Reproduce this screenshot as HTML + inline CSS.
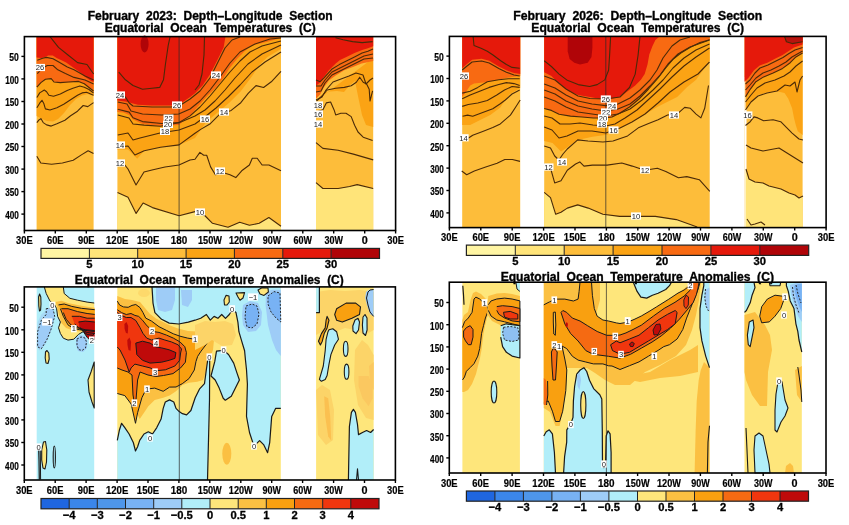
<!DOCTYPE html>
<html><head><meta charset="utf-8"><style>
html,body{margin:0;padding:0;background:#fff;}
svg{display:block;font-family:'Liberation Sans', Arial, sans-serif;filter:blur(0.3px);}
</style></head><body>
<svg width="849" height="525" viewBox="0 0 849 525">
<rect x="0" y="0" width="849" height="525" fill="#fff"/>
<rect x="36.6" y="36.6" width="57.0" height="193.9" fill="#FDBD3A" stroke="none" stroke-width="0"/>
<polygon points="36.6,36.6 36.6,116.0 42.0,119.0 47.0,121.0 53.0,121.5 58.0,119.0 64.0,113.0 70.0,105.0 76.0,99.0 82.0,95.5 88.0,94.0 93.6,96.0 93.6,36.6" fill="#FBA314" stroke="none" stroke-width="0"/>
<polygon points="36.6,36.6 36.6,87.2 40.9,82.6 45.4,79.2 51.2,78.6 53.5,81.4 59.2,82.6 68.3,82.6 77.5,81.4 82.1,82.6 88.9,87.2 93.6,92.0 93.6,36.6" fill="#F86A12" stroke="none" stroke-width="0"/>
<polygon points="36.6,36.6 36.6,57.5 41.4,58.0 45.2,57.0 48.1,55.5 52.8,55.5 56.6,57.9 60.4,59.8 66.1,62.6 71.8,66.4 79.5,72.1 85.2,76.9 90.9,80.7 93.6,82.0 93.6,36.6" fill="#E5190B" stroke="none" stroke-width="0"/>
<rect x="117.4" y="36.6" width="163.6" height="193.9" fill="#FDBD3A" stroke="none" stroke-width="0"/>
<polygon points="117.4,230.5 117.4,192.5 128.0,197.2 136.1,213.4 143.1,203.0 152.4,207.6 179.1,215.8 195.0,211.6 204.7,215.5 212.5,223.3 228.0,227.2 239.7,222.3 249.4,225.3 259.2,223.3 268.9,217.5 281.0,226.2 281.0,230.5" fill="#FFE479" stroke="none" stroke-width="0"/>
<polygon points="117.4,36.6 117.4,149.5 128.0,149.5 134.9,156.5 137.2,158.8 144.2,150.7 160.5,147.2 179.1,144.9 195.0,138.0 206.4,121.8 217.9,112.3 229.3,102.7 240.8,91.3 252.2,76.0 259.8,64.6 267.5,57.0 281.0,49.0 281.0,36.6" fill="#FBA314" stroke="none" stroke-width="0"/>
<polygon points="117.4,36.6 117.4,112.0 123.5,112.5 129.2,115.0 133.0,119.5 142.5,124.0 161.6,126.0 178.7,125.0 190.1,115.9 195.0,110.0 206.4,97.0 216.0,87.5 223.6,78.0 229.3,68.4 237.0,58.9 244.6,51.3 252.2,45.5 267.5,41.7 281.0,37.9 281.0,36.6" fill="#F86A12" stroke="none" stroke-width="0"/>
<polygon points="117.4,36.6 117.4,100.5 125.4,101.5 129.2,102.5 137.8,104.8 152.0,105.4 171.1,105.4 180.6,103.5 190.1,96.9 195.0,93.2 202.6,85.6 210.3,74.1 217.9,58.9 223.6,47.4 225.5,36.6 225.5,36.6" fill="#E5190B" stroke="none" stroke-width="0"/>
<rect x="316.0" y="36.6" width="57.2" height="193.9" fill="#FDBD3A" stroke="none" stroke-width="0"/>
<polygon points="316.0,230.5 316.0,182.7 322.9,188.5 338.1,188.5 349.6,186.5 357.2,184.6 373.2,188.5 373.2,230.5" fill="#FFE479" stroke="none" stroke-width="0"/>
<polygon points="316.0,101.0 323.7,93.0 330.0,91.5 337.0,91.0 344.0,92.0 350.0,85.0 355.0,81.0 358.0,96.0 362.0,115.0 366.0,125.0 373.2,127.0 373.2,58.0" fill="#FBA314" stroke="none" stroke-width="0"/>
<polygon points="316.0,36.6 316.0,98.6 320.3,94.3 323.7,87.4 328.9,80.6 335.7,75.4 344.3,70.3 352.9,66.9 361.5,63.4 373.2,60.9 373.2,36.6" fill="#F86A12" stroke="none" stroke-width="0"/>
<polygon points="316.0,36.6 316.0,85.7 320.3,82.3 323.7,77.2 328.9,70.3 335.7,63.4 340.0,60.0 346.9,56.8 354.5,53.0 362.1,50.1 367.9,48.2 373.2,46.3 373.2,36.6" fill="#E5190B" stroke="none" stroke-width="0"/>
<polyline points="50.0,36.6 58.5,47.4 68.0,55.0 77.6,62.6 87.0,64.5 93.6,74.0" fill="none" stroke="#4a2a08" stroke-width="1.1" stroke-linejoin="round"/>
<polyline points="37.3,60.2 42.6,58.3 46.4,57.4 53.0,58.8 58.8,62.1 67.3,66.9 74.0,69.8 85.0,76.0 93.6,80.0" fill="none" stroke="#4a2a08" stroke-width="1.1" stroke-linejoin="round"/>
<polyline points="37.3,73.6 42.6,67.9 47.3,65.5 53.0,65.5 57.8,69.8 65.4,73.6 74.0,77.4 85.0,80.0 93.6,84.0" fill="none" stroke="#4a2a08" stroke-width="1.1" stroke-linejoin="round"/>
<polyline points="36.9,87.2 40.9,82.6 45.4,79.2 51.2,78.6 54.0,82.0 60.3,82.6 68.3,82.0 78.6,81.4 84.3,83.7 89.0,87.5 93.5,91.0" fill="none" stroke="#4a2a08" stroke-width="1.1" stroke-linejoin="round"/>
<polyline points="36.9,97.5 39.7,92.9 44.3,90.0 46.6,91.7 48.9,95.2 53.5,96.3 60.3,94.0 67.2,90.6 72.9,88.3 79.8,86.0 84.3,87.2 89.0,89.5 93.5,93.0" fill="none" stroke="#4a2a08" stroke-width="1.1" stroke-linejoin="round"/>
<polyline points="36.9,107.8 39.7,103.2 42.0,100.3 43.7,103.2 45.4,108.9 50.0,110.0 56.9,107.8 63.7,104.3 70.6,99.7 77.5,95.2 82.1,92.9 86.6,92.3 93.5,95.2" fill="none" stroke="#4a2a08" stroke-width="1.1" stroke-linejoin="round"/>
<polyline points="36.9,122.6 38.6,120.3 40.9,118.6 43.2,122.6 46.6,124.9 51.2,126.1 56.9,123.8 64.9,120.3 70.6,115.8 77.5,111.2 83.2,105.5 87.8,106.6 93.5,102.6" fill="none" stroke="#4a2a08" stroke-width="1.1" stroke-linejoin="round"/>
<polyline points="36.8,156.2 40.8,163.0 51.6,164.3 62.4,163.0 73.2,160.3 81.4,154.9 88.1,150.8 93.5,153.5" fill="none" stroke="#4a2a08" stroke-width="1.1" stroke-linejoin="round"/>
<polyline points="118.8,72.1 125.4,79.8 133.0,85.5 142.5,89.3 152.0,88.3 159.7,87.4 163.5,79.8 165.4,64.5 168.2,45.5 170.1,36.6" fill="none" stroke="#4a2a08" stroke-width="1.1" stroke-linejoin="round"/>
<polyline points="204.5,36.6 204.0,55.0 202.0,74.0 199.0,85.0 195.0,90.0" fill="none" stroke="#4a2a08" stroke-width="1.1" stroke-linejoin="round"/>
<polyline points="117.8,95.0 125.4,97.0 129.2,103.0 133.0,106.0 152.0,107.0 171.1,107.0 180.6,105.0 190.1,99.0 200.0,91.0 210.0,78.0 218.0,62.0 225.0,48.0 232.0,40.0 240.0,37.0" fill="none" stroke="#4a2a08" stroke-width="1.1" stroke-linejoin="round"/>
<polyline points="117.8,102.0 127.0,104.0 131.0,111.0 142.5,114.0 161.6,115.0 178.7,114.0 190.1,109.0 200.0,101.0 210.0,90.0 220.0,77.0 230.0,63.0 240.0,52.0 255.0,44.0 270.0,39.0 281.0,38.0" fill="none" stroke="#4a2a08" stroke-width="1.1" stroke-linejoin="round"/>
<polyline points="117.8,109.3 129.2,112.1 133.0,117.8 142.5,121.6 161.6,123.5 178.7,122.6 190.1,115.9 200.0,107.0 210.0,96.0 220.0,84.0 230.0,72.0 240.0,61.0 250.0,52.0 262.0,46.0 281.0,41.0" fill="none" stroke="#4a2a08" stroke-width="1.1" stroke-linejoin="round"/>
<polyline points="117.8,115.0 129.0,118.0 133.0,124.0 144.2,125.1 160.5,126.3 179.1,122.8 195.0,116.0 205.0,110.0 215.0,101.0 225.0,90.0 235.0,78.0 248.0,64.0 262.0,54.0 281.0,45.0" fill="none" stroke="#4a2a08" stroke-width="1.1" stroke-linejoin="round"/>
<polyline points="117.8,135.0 128.0,133.0 133.0,140.0 140.0,138.0 160.0,133.0 179.0,130.0 195.0,124.0 206.0,116.0 216.0,108.0 228.0,97.0 240.0,85.0 252.0,72.0 265.0,62.0 281.0,52.0" fill="none" stroke="#4a2a08" stroke-width="1.1" stroke-linejoin="round"/>
<polyline points="117.5,147.0 128.0,146.0 134.9,155.0 144.2,150.7 160.5,147.2 179.1,144.9 195.0,133.3 200.7,129.4 210.3,123.7 219.8,114.2 231.2,110.4 240.8,102.7 248.4,93.2 256.0,85.6 263.6,87.5 271.3,81.8 281.0,71.3" fill="none" stroke="#4a2a08" stroke-width="1.1" stroke-linejoin="round"/>
<polyline points="117.4,163.0 124.0,164.0 128.0,169.0 136.0,185.0 144.0,172.0 152.0,170.0 165.0,167.0 179.0,165.0 190.0,160.0 195.0,159.2 199.9,152.4 203.7,155.3 206.7,155.3 210.6,166.9 215.4,174.7 220.3,171.8 230.0,174.7 235.8,177.6 241.7,170.8 249.4,165.0 252.3,158.2 257.2,158.2 262.1,165.0 268.9,165.0 281.0,170.8" fill="none" stroke="#4a2a08" stroke-width="1.1" stroke-linejoin="round"/>
<polyline points="117.5,192.5 128.0,197.2 136.1,213.4 143.1,203.0 152.4,207.6 179.1,215.8 195.0,211.6 204.7,215.5 212.5,223.3 228.0,227.2 239.7,222.3 249.4,225.3 259.2,223.3 268.9,217.5 281.0,226.2" fill="none" stroke="#4a2a08" stroke-width="1.1" stroke-linejoin="round"/>
<polyline points="335.5,37.8 343.1,39.7 352.6,41.6 362.1,42.6 372.6,41.6" fill="none" stroke="#4a2a08" stroke-width="1.1" stroke-linejoin="round"/>
<polyline points="316.0,80.0 320.2,81.7 324.0,77.9 331.7,69.3 339.3,64.6 346.9,60.8 354.5,57.0 362.1,53.1 367.9,51.2 373.0,49.0" fill="none" stroke="#4a2a08" stroke-width="1.1" stroke-linejoin="round"/>
<polyline points="316.0,86.0 321.0,86.0 325.0,80.0 332.0,72.0 340.0,68.0 348.0,64.0 356.0,60.0 364.0,56.0 373.0,54.0" fill="none" stroke="#4a2a08" stroke-width="1.1" stroke-linejoin="round"/>
<polyline points="316.0,92.0 321.0,91.0 325.0,83.0 332.0,75.0 340.0,71.0 348.0,67.0 356.0,63.0 364.0,59.0 373.0,58.0" fill="none" stroke="#4a2a08" stroke-width="1.1" stroke-linejoin="round"/>
<polyline points="316.0,100.0 322.0,97.0 326.0,90.0 333.0,82.0 341.0,79.0 349.0,76.0 356.0,73.0 363.0,75.0 366.0,84.0 370.0,80.0 373.0,78.0" fill="none" stroke="#4a2a08" stroke-width="1.1" stroke-linejoin="round"/>
<polyline points="316.5,101.2 322.0,96.0 327.2,90.0 335.7,88.3 344.3,87.4 351.2,85.7 356.3,82.3 359.7,77.2 363.2,82.3 366.6,84.0 369.2,89.2 370.0,101.0 372.6,90.9" fill="none" stroke="#4a2a08" stroke-width="1.1" stroke-linejoin="round"/>
<polyline points="316.5,112.0 322.9,109.7 326.3,102.9 330.6,102.0 334.0,109.7 335.7,114.9 340.9,113.2 346.0,113.2 351.2,116.6 354.6,125.2 358.0,132.0 363.2,137.2 368.3,138.9 372.6,140.6" fill="none" stroke="#4a2a08" stroke-width="1.1" stroke-linejoin="round"/>
<polyline points="316.0,142.7 322.9,148.4 338.1,150.3 353.4,154.1 373.2,159.9" fill="none" stroke="#4a2a08" stroke-width="1.1" stroke-linejoin="round"/>
<polyline points="316.0,182.7 322.9,188.5 338.1,188.5 349.6,186.5 357.2,184.6 373.2,188.5" fill="none" stroke="#4a2a08" stroke-width="1.1" stroke-linejoin="round"/>
<ellipse cx="144.6" cy="44" rx="4" ry="8.5" fill="#B00408"/>
<line x1="179.1" y1="36.6" x2="179.1" y2="230.5" stroke="#2a2a2a" stroke-width="0.7"/>
<rect x="35.0" y="63.9" width="10.0" height="7.2" fill="#fff"/>
<text x="40.0" y="70.2" font-size="7.6" text-anchor="middle" font-weight="normal" fill="#222">26</text>
<rect x="115.0" y="91.4" width="10.0" height="7.2" fill="#fff"/>
<text x="120.0" y="97.7" font-size="7.6" text-anchor="middle" font-weight="normal" fill="#222">24</text>
<rect x="172.0" y="101.4" width="10.0" height="7.2" fill="#fff"/>
<text x="177.0" y="107.7" font-size="7.6" text-anchor="middle" font-weight="normal" fill="#222">26</text>
<rect x="211.0" y="71.4" width="10.0" height="7.2" fill="#fff"/>
<text x="216.0" y="77.7" font-size="7.6" text-anchor="middle" font-weight="normal" fill="#222">24</text>
<rect x="163.5" y="114.5" width="10.0" height="7.2" fill="#fff"/>
<text x="168.5" y="120.8" font-size="7.6" text-anchor="middle" font-weight="normal" fill="#222">22</text>
<rect x="163.0" y="120.8" width="10.0" height="7.2" fill="#fff"/>
<text x="168.0" y="127.1" font-size="7.6" text-anchor="middle" font-weight="normal" fill="#222">20</text>
<rect x="160.0" y="127.8" width="10.0" height="7.2" fill="#fff"/>
<text x="165.0" y="134.1" font-size="7.6" text-anchor="middle" font-weight="normal" fill="#222">18</text>
<rect x="200.0" y="115.4" width="10.0" height="7.2" fill="#fff"/>
<text x="205.0" y="121.7" font-size="7.6" text-anchor="middle" font-weight="normal" fill="#222">16</text>
<rect x="219.0" y="108.4" width="10.0" height="7.2" fill="#fff"/>
<text x="224.0" y="114.7" font-size="7.6" text-anchor="middle" font-weight="normal" fill="#222">14</text>
<rect x="115.0" y="141.4" width="10.0" height="7.2" fill="#fff"/>
<text x="120.0" y="147.7" font-size="7.6" text-anchor="middle" font-weight="normal" fill="#222">14</text>
<rect x="115.0" y="159.4" width="10.0" height="7.2" fill="#fff"/>
<text x="120.0" y="165.7" font-size="7.6" text-anchor="middle" font-weight="normal" fill="#222">12</text>
<rect x="215.0" y="167.4" width="10.0" height="7.2" fill="#fff"/>
<text x="220.0" y="173.7" font-size="7.6" text-anchor="middle" font-weight="normal" fill="#222">12</text>
<rect x="195.0" y="208.4" width="10.0" height="7.2" fill="#fff"/>
<text x="200.0" y="214.7" font-size="7.6" text-anchor="middle" font-weight="normal" fill="#222">10</text>
<rect x="313.0" y="101.4" width="10.0" height="7.2" fill="#fff"/>
<text x="318.0" y="107.7" font-size="7.6" text-anchor="middle" font-weight="normal" fill="#222">18</text>
<rect x="313.0" y="110.4" width="10.0" height="7.2" fill="#fff"/>
<text x="318.0" y="116.7" font-size="7.6" text-anchor="middle" font-weight="normal" fill="#222">16</text>
<rect x="313.0" y="120.4" width="10.0" height="7.2" fill="#fff"/>
<text x="318.0" y="126.7" font-size="7.6" text-anchor="middle" font-weight="normal" fill="#222">14</text>
<rect x="462.2" y="36.4" width="58.0" height="191.2" fill="#FDBD3A" stroke="none" stroke-width="0"/>
<polygon points="462.2,36.4 462.2,125.0 470.2,125.1 480.2,120.1 490.3,115.1 500.3,107.5 505.3,100.0 510.0,94.0 520.2,88.0 520.2,36.4" fill="#FBA314" stroke="none" stroke-width="0"/>
<polygon points="462.2,36.4 462.2,96.9 466.4,91.2 470.2,85.5 474.0,83.6 483.5,82.6 493.0,80.7 502.6,78.8 512.1,76.9 520.2,76.0 520.2,36.4" fill="#F86A12" stroke="none" stroke-width="0"/>
<polygon points="462.2,36.4 462.2,68.3 466.4,64.5 472.1,59.8 481.6,58.8 489.2,60.7 498.8,66.4 506.4,70.2 514.0,73.1 520.2,74.0 520.2,36.4" fill="#E5190B" stroke="none" stroke-width="0"/>
<rect x="544.2" y="36.4" width="165.5" height="191.2" fill="#FDBD3A" stroke="none" stroke-width="0"/>
<polygon points="544.2,227.6 544.2,192.3 550.5,197.6 555.7,214.3 561.0,212.2 567.3,208.1 577.7,204.9 588.2,208.1 602.9,214.3 619.7,216.4 634.3,216.4 655.3,216.4 676.3,219.6 697.2,226.9 709.7,229.0 709.7,227.6" fill="#FFE479" stroke="none" stroke-width="0"/>
<polygon points="544.2,36.4 544.2,141.0 552.6,143.1 561.0,151.4 567.3,147.3 577.7,139.9 592.4,136.8 607.1,134.7 620.0,128.0 639.0,117.9 658.1,106.4 677.1,96.9 686.6,87.4 696.1,79.8 709.7,60.7 709.7,36.4" fill="#FBA314" stroke="none" stroke-width="0"/>
<polygon points="544.2,36.4 544.2,108.5 551.4,110.4 559.1,114.2 570.5,116.1 582.0,117.0 593.4,118.0 604.8,118.0 612.0,117.0 620.0,113.0 629.5,107.0 639.0,99.0 648.6,89.0 658.1,78.0 665.7,68.0 673.3,59.0 680.9,53.0 690.4,47.3 700.0,42.6 709.7,39.8 709.7,36.4" fill="#F86A12" stroke="none" stroke-width="0"/>
<polygon points="544.2,36.4 544.2,72.2 551.4,76.0 559.1,83.7 568.6,91.3 578.1,95.1 589.6,97.0 601.0,98.9 612.5,98.5 620.0,96.9 627.6,91.2 635.2,85.5 640.9,79.8 644.7,74.1 647.5,64.6 649.3,54.6 652.4,46.3 655.4,40.1 659.6,36.4 659.6,36.4" fill="#E5190B" stroke="none" stroke-width="0"/>
<polygon points="567.7,36.4 567.7,51.3 569.6,58.9 574.3,62.7 580.0,64.6 587.7,62.7 591.5,57.0 592.4,47.4 592.4,36.4" fill="#B00408" stroke="none" stroke-width="0"/>
<rect x="744.5" y="36.4" width="58.1" height="191.2" fill="#FDBD3A" stroke="none" stroke-width="0"/>
<rect x="744.5" y="77" width="2" height="151" fill="#fff"/>
<polygon points="745.5,227.6 745.5,169.0 749.0,179.0 755.0,182.0 763.0,183.0 769.0,186.0 781.0,189.0 789.0,193.0 795.0,195.0 799.0,198.0 802.6,196.0 802.6,227.6" fill="#FFE479" stroke="none" stroke-width="0"/>
<polygon points="745.5,36.4 745.5,110.2 750.2,102.6 757.8,95.0 767.4,92.2 776.9,91.2 784.5,93.1 788.3,98.8 792.1,108.3 794.0,117.9 795.9,125.5 797.8,131.2 802.6,135.0 802.6,36.4" fill="#FBA314" stroke="none" stroke-width="0"/>
<polygon points="745.5,36.4 745.5,96.9 750.2,89.3 755.9,81.7 763.6,76.9 773.1,73.1 782.6,68.4 790.2,62.7 795.9,56.9 802.6,53.1 802.6,36.4" fill="#F86A12" stroke="none" stroke-width="0"/>
<polygon points="744.5,36.4 744.5,81.7 748.3,77.9 754.0,70.3 759.7,65.5 767.4,62.7 775.0,58.8 782.6,55.0 788.3,51.2 794.0,47.4 799.7,45.5 802.6,44.6 802.6,36.4" fill="#E5190B" stroke="none" stroke-width="0"/>
<polygon points="784.5,36.4 786.4,41.7 792.1,43.6 802.6,41.7 802.6,36.4" fill="#B8140E" stroke="none" stroke-width="0"/>
<polyline points="473.1,36.4 474.0,45.5 481.6,48.4 487.3,51.2 493.0,55.0 500.7,60.7 506.4,64.5 512.1,67.4 519.7,68.3" fill="none" stroke="#4a2a08" stroke-width="1.1" stroke-linejoin="round"/>
<polyline points="462.2,70.0 466.4,66.5 472.1,62.0 481.6,61.0 489.2,63.0 498.8,68.4 506.4,72.2 514.0,75.0 519.7,76.0" fill="none" stroke="#4a2a08" stroke-width="1.1" stroke-linejoin="round"/>
<polyline points="462.2,93.1 470.2,91.2 477.8,87.4 487.3,81.7 498.8,79.8 508.3,78.8 519.7,78.8" fill="none" stroke="#4a2a08" stroke-width="1.1" stroke-linejoin="round"/>
<polyline points="462.2,98.8 470.2,95.0 479.7,91.2 489.2,87.4 498.8,84.5 506.4,82.6 514.0,83.6 519.7,85.5" fill="none" stroke="#4a2a08" stroke-width="1.1" stroke-linejoin="round"/>
<polyline points="462.2,106.4 468.3,104.5 477.8,103.0 487.3,100.5 496.8,95.0 504.5,90.0 512.1,86.5 519.7,87.4" fill="none" stroke="#4a2a08" stroke-width="1.1" stroke-linejoin="round"/>
<polyline points="462.6,116.3 467.6,115.1 472.7,116.3 482.7,112.6 492.8,108.8 500.3,103.8 505.3,100.0 512.0,94.0 519.7,90.0" fill="none" stroke="#4a2a08" stroke-width="1.1" stroke-linejoin="round"/>
<polyline points="462.2,140.0 468.9,137.8 472.7,135.2 482.7,131.4 492.8,127.6 500.3,123.9 510.4,115.1 515.4,107.5 520.2,100.0" fill="none" stroke="#4a2a08" stroke-width="1.1" stroke-linejoin="round"/>
<polyline points="461.7,171.0 466.7,174.8 474.3,171.0 485.7,167.1 497.1,163.3 504.8,159.5 512.4,159.5 520.0,161.4" fill="none" stroke="#4a2a08" stroke-width="1.1" stroke-linejoin="round"/>
<polyline points="544.2,60.8 551.4,66.5 559.1,74.1 566.7,79.9 578.1,84.6 589.6,86.5 597.2,84.6 604.8,79.9 608.6,70.3 609.6,55.1 610.6,36.4" fill="none" stroke="#4a2a08" stroke-width="1.1" stroke-linejoin="round"/>
<polyline points="544.2,76.0 555.0,80.0 566.0,89.0 578.0,96.0 590.0,98.5 605.8,99.0 620.0,97.0 629.5,87.5 635.2,74.1 638.1,55.0 640.0,36.4" fill="none" stroke="#4a2a08" stroke-width="1.1" stroke-linejoin="round"/>
<polyline points="544.2,84.0 555.0,88.0 566.0,95.0 578.0,101.0 592.0,104.0 605.8,105.6 618.0,104.0 630.0,98.0 640.0,90.0 650.0,80.0 657.0,70.0 663.0,58.0 672.0,46.0 680.0,40.0 690.0,37.0" fill="none" stroke="#4a2a08" stroke-width="1.1" stroke-linejoin="round"/>
<polyline points="544.2,90.0 555.0,94.0 566.0,101.0 578.0,106.0 592.0,109.0 605.8,111.0 618.0,109.0 630.0,104.0 640.0,96.0 650.0,86.0 660.0,75.0 668.0,64.0 678.0,54.0 690.0,47.0 709.5,40.0" fill="none" stroke="#4a2a08" stroke-width="1.1" stroke-linejoin="round"/>
<polyline points="544.2,97.0 555.0,101.0 566.0,107.0 578.0,112.0 592.0,114.0 605.8,116.0 618.0,114.0 630.0,109.0 642.0,100.0 653.0,90.0 663.0,80.0 673.0,68.0 684.0,58.0 696.0,50.0 709.5,44.0" fill="none" stroke="#4a2a08" stroke-width="1.1" stroke-linejoin="round"/>
<polyline points="544.2,108.5 551.4,110.4 559.1,114.2 570.5,116.1 582.0,117.0 593.4,118.0 604.8,118.0 612.0,117.0 620.0,113.0 629.5,107.0 639.0,99.0 648.6,89.0 658.1,78.0 665.7,68.0 673.3,59.0 680.9,53.0 690.4,47.3 700.0,42.6 709.7,39.8" fill="none" stroke="#4a2a08" stroke-width="1.1" stroke-linejoin="round"/>
<polyline points="544.2,116.0 552.0,118.0 560.0,124.0 570.0,124.0 580.0,123.0 593.0,125.0 605.8,126.0 615.0,124.0 625.0,118.0 637.0,110.0 648.0,100.0 660.0,89.0 672.0,77.0 684.0,66.0 696.0,57.0 709.5,48.0" fill="none" stroke="#4a2a08" stroke-width="1.1" stroke-linejoin="round"/>
<polyline points="544.2,127.0 552.0,130.0 559.0,138.0 567.0,136.0 578.0,131.0 592.0,131.0 605.8,133.0 620.0,128.0 632.0,122.0 645.0,114.0 658.0,103.0 670.0,92.0 684.0,82.0 698.0,74.0 709.5,62.0" fill="none" stroke="#4a2a08" stroke-width="1.1" stroke-linejoin="round"/>
<polyline points="544.2,146.0 550.5,148.0 554.7,156.0 558.9,160.0 563.0,154.0 567.3,149.0 577.7,139.9 588.0,141.0 602.9,142.0 613.0,141.0 627.6,135.9 639.0,127.4 648.6,123.6 658.1,119.8 667.6,115.0 677.1,114.1 684.7,107.4 690.4,108.3 696.1,114.1 700.9,117.9 704.7,108.3 708.5,85.5" fill="none" stroke="#4a2a08" stroke-width="1.1" stroke-linejoin="round"/>
<polyline points="544.2,164.0 550.5,168.2 554.7,182.9 561.0,180.8 567.3,170.3 575.6,164.0 579.8,161.9 584.0,166.1 592.4,165.1 607.1,165.1 621.8,163.0 632.2,166.1 644.8,170.3 657.4,168.2 665.8,171.4 678.4,177.7 686.8,176.6 699.3,179.7 709.8,191.3" fill="none" stroke="#4a2a08" stroke-width="1.1" stroke-linejoin="round"/>
<polyline points="544.2,192.3 550.5,197.6 555.7,214.3 561.0,212.2 567.3,208.1 577.7,204.9 588.2,208.1 602.9,214.3 619.7,216.4 634.3,216.4 655.3,216.4 676.3,219.6 697.2,226.9" fill="none" stroke="#4a2a08" stroke-width="1.1" stroke-linejoin="round"/>
<polyline points="784.5,36.4 786.4,41.7 792.1,43.6 802.6,41.7" fill="none" stroke="#4a2a08" stroke-width="1.1" stroke-linejoin="round"/>
<polyline points="745.5,84.0 750.0,80.0 755.0,73.0 760.0,68.0 768.0,65.0 776.0,61.0 783.0,57.5 789.0,53.5 795.0,50.0 802.6,47.5" fill="none" stroke="#4a2a08" stroke-width="1.1" stroke-linejoin="round"/>
<polyline points="745.5,90.0 750.0,85.0 756.0,78.0 763.0,73.0 771.0,70.0 779.0,66.0 786.0,62.0 792.0,57.0 802.6,51.0" fill="none" stroke="#4a2a08" stroke-width="1.1" stroke-linejoin="round"/>
<polyline points="745.5,96.9 750.2,89.3 755.9,81.7 763.6,76.9 773.1,73.1 782.6,68.4 790.2,62.7 795.9,56.9 802.6,53.1" fill="none" stroke="#4a2a08" stroke-width="1.1" stroke-linejoin="round"/>
<polyline points="745.5,102.0 751.0,95.0 757.0,88.0 765.0,83.0 775.0,80.0 784.0,76.0 790.0,72.0 796.0,66.0 802.6,61.0" fill="none" stroke="#4a2a08" stroke-width="1.1" stroke-linejoin="round"/>
<polyline points="745.5,110.0 751.0,102.0 758.0,96.0 767.0,93.0 777.0,91.0 785.0,85.0 790.0,86.0 795.0,82.0 797.0,92.0 800.0,80.0 802.6,76.0" fill="none" stroke="#4a2a08" stroke-width="1.1" stroke-linejoin="round"/>
<polyline points="745.5,125.5 750.2,121.7 754.0,116.9 757.8,117.9 763.6,120.7 773.1,119.8 780.7,121.7 786.4,127.4 792.1,133.1 799.0,139.0 803.0,140.0" fill="none" stroke="#4a2a08" stroke-width="1.1" stroke-linejoin="round"/>
<polyline points="746.0,145.0 751.0,148.0 763.0,151.0 779.0,148.0 787.0,153.0 795.0,158.0 803.0,163.0" fill="none" stroke="#4a2a08" stroke-width="1.1" stroke-linejoin="round"/>
<polyline points="746.0,169.0 749.0,179.0 755.0,182.0 763.0,183.0 769.0,186.0 781.0,189.0 789.0,193.0 795.0,195.0 799.0,198.0 803.0,196.0" fill="none" stroke="#4a2a08" stroke-width="1.1" stroke-linejoin="round"/>
<polyline points="747.0,219.0 751.0,225.0 755.0,224.0 761.0,222.0 765.0,225.0" fill="none" stroke="#4a2a08" stroke-width="1.1" stroke-linejoin="round"/>
<line x1="605.8" y1="36.4" x2="605.8" y2="227.6" stroke="#2a2a2a" stroke-width="0.7"/>
<rect x="459.0" y="72.4" width="10.0" height="7.2" fill="#fff"/>
<text x="464.0" y="78.7" font-size="7.6" text-anchor="middle" font-weight="normal" fill="#222">26</text>
<rect x="458.6" y="134.2" width="10.0" height="7.2" fill="#fff"/>
<text x="463.6" y="140.5" font-size="7.6" text-anchor="middle" font-weight="normal" fill="#222">14</text>
<rect x="600.8" y="95.4" width="10.0" height="7.2" fill="#fff"/>
<text x="605.8" y="101.7" font-size="7.6" text-anchor="middle" font-weight="normal" fill="#222">26</text>
<rect x="607.0" y="102.4" width="10.0" height="7.2" fill="#fff"/>
<text x="612.0" y="108.7" font-size="7.6" text-anchor="middle" font-weight="normal" fill="#222">24</text>
<rect x="601.0" y="108.4" width="10.0" height="7.2" fill="#fff"/>
<text x="606.0" y="114.7" font-size="7.6" text-anchor="middle" font-weight="normal" fill="#222">22</text>
<rect x="598.0" y="114.4" width="10.0" height="7.2" fill="#fff"/>
<text x="603.0" y="120.7" font-size="7.6" text-anchor="middle" font-weight="normal" fill="#222">20</text>
<rect x="597.0" y="120.4" width="10.0" height="7.2" fill="#fff"/>
<text x="602.0" y="126.7" font-size="7.6" text-anchor="middle" font-weight="normal" fill="#222">18</text>
<rect x="608.5" y="126.4" width="10.0" height="7.2" fill="#fff"/>
<text x="613.5" y="132.7" font-size="7.6" text-anchor="middle" font-weight="normal" fill="#222">16</text>
<rect x="669.0" y="111.4" width="10.0" height="7.2" fill="#fff"/>
<text x="674.0" y="117.7" font-size="7.6" text-anchor="middle" font-weight="normal" fill="#222">14</text>
<rect x="557.0" y="158.4" width="10.0" height="7.2" fill="#fff"/>
<text x="562.0" y="164.7" font-size="7.6" text-anchor="middle" font-weight="normal" fill="#222">14</text>
<rect x="543.5" y="163.4" width="10.0" height="7.2" fill="#fff"/>
<text x="548.5" y="169.7" font-size="7.6" text-anchor="middle" font-weight="normal" fill="#222">12</text>
<rect x="640.0" y="166.4" width="10.0" height="7.2" fill="#fff"/>
<text x="645.0" y="172.7" font-size="7.6" text-anchor="middle" font-weight="normal" fill="#222">12</text>
<rect x="631.0" y="212.4" width="10.0" height="7.2" fill="#fff"/>
<text x="636.0" y="218.7" font-size="7.6" text-anchor="middle" font-weight="normal" fill="#222">10</text>
<rect x="742.4" y="111.4" width="10.0" height="7.2" fill="#fff"/>
<text x="747.4" y="117.7" font-size="7.6" text-anchor="middle" font-weight="normal" fill="#222">16</text>
<rect x="36.7" y="286.9" width="57.5" height="193.1" fill="#B1EEF9" stroke="none" stroke-width="0"/>
<polygon points="44.3,286.9 46.2,293.5 50.0,301.1 54.7,304.9 56.6,308.7 57.6,316.3 60.4,322.0 58.5,327.8 60.4,333.5 63.3,338.2 68.0,340.1 73.8,339.2 78.5,334.4 83.3,331.6 87.1,334.4 92.8,335.4 94.2,333.5 94.2,303.0 87.1,302.1 77.6,300.2 69.9,298.3 64.2,293.5 63.3,286.9" fill="#FEE67B" stroke="none" stroke-width="0"/>
<polygon points="55.7,302.1 61.4,300.7 68.0,303.0 77.6,304.9 87.1,306.8 94.7,307.8 94.7,332.5 85.2,331.6 77.6,331.2 71.8,330.0 66.1,328.1 61.4,323.0 58.5,312.5" fill="#FBC042" stroke="none" stroke-width="0"/>
<polygon points="58.5,304.9 64.2,304.0 71.8,306.4 81.4,308.3 94.7,309.7 94.7,331.6 87.1,330.6 79.5,329.7 72.8,328.1 68.0,324.9 63.3,316.3 60.4,308.7" fill="#F9A010" stroke="none" stroke-width="0"/>
<polygon points="61.4,308.7 68.0,308.7 77.6,311.6 87.1,313.5 94.7,314.4 94.7,330.6 85.2,329.7 77.6,327.8 70.9,324.9 66.1,319.2 63.3,312.5" fill="#F56A12" stroke="none" stroke-width="0"/>
<polygon points="71.8,316.3 79.5,316.3 87.1,318.2 94.7,318.2 94.7,333.5 87.1,332.5 79.5,328.7 74.7,323.9" fill="#F0360E" stroke="none" stroke-width="0"/>
<polygon points="78.5,322.0 85.2,321.1 94.7,322.0 94.7,339.2 90.9,341.1 87.1,337.3 83.3,331.6 79.5,326.8" fill="#BF0A0A" stroke="none" stroke-width="0"/>
<polyline points="58.5,304.9 64.2,304.0 71.8,306.4 81.4,308.3 94.7,309.7" fill="none" stroke="#1a1a1a" stroke-width="1.0" stroke-linejoin="round"/>
<polyline points="94.7,331.6 87.1,330.6 79.5,329.7 72.8,328.1 68.0,324.9 63.3,316.3 60.4,308.7" fill="none" stroke="#1a1a1a" stroke-width="1.0" stroke-linejoin="round"/>
<polyline points="61.4,308.7 68.0,308.7 77.6,311.6 87.1,313.5 94.7,314.4" fill="none" stroke="#1a1a1a" stroke-width="1.0" stroke-linejoin="round"/>
<polyline points="94.7,330.6 85.2,329.7 77.6,327.8 70.9,324.9 66.1,319.2 63.3,312.5" fill="none" stroke="#1a1a1a" stroke-width="1.0" stroke-linejoin="round"/>
<polyline points="71.8,316.3 79.5,316.3 87.1,318.2 94.7,318.2" fill="none" stroke="#1a1a1a" stroke-width="1.0" stroke-linejoin="round"/>
<polyline points="94.7,333.5 87.1,332.5 79.5,328.7 74.7,323.9" fill="none" stroke="#1a1a1a" stroke-width="1.0" stroke-linejoin="round"/>
<polyline points="78.5,322.0 85.2,321.1 94.7,322.0" fill="none" stroke="#1a1a1a" stroke-width="1.0" stroke-linejoin="round"/>
<polyline points="94.7,339.2 90.9,341.1 87.1,337.3 83.3,331.6 79.5,326.8" fill="none" stroke="#1a1a1a" stroke-width="1.0" stroke-linejoin="round"/>
<polyline points="44.3,286.9 46.2,293.5 50.0,301.1 54.7,304.9 56.6,308.7 57.6,316.3 60.4,322.0 58.5,327.8 60.4,333.5 63.3,338.2 68.0,340.1 73.8,339.2 78.5,334.4 83.3,331.6 87.1,334.4 92.8,335.4 94.2,333.5" fill="none" stroke="#1a1a1a" stroke-width="1.0" stroke-linejoin="round"/>
<polyline points="63.3,286.9 64.2,293.5 69.9,298.3 77.6,300.2 87.1,302.1 94.2,303.0" fill="none" stroke="#1a1a1a" stroke-width="1.0" stroke-linejoin="round"/>
<polygon points="37.6,322.0 41.4,314.4 47.1,308.7 52.8,307.8 54.7,314.4 52.8,325.8 49.0,337.3 45.2,344.9 39.5,350.6 36.7,346.8" fill="#A8DAF6" stroke="none" stroke-width="0"/>
<polygon points="46.2,308.7 52.8,307.8 54.7,316.3 50.9,329.7 47.1,339.2 41.4,348.7 37.6,346.8 37.6,331.6 41.4,320.1 46.2,314.4" fill="#9ECCF7" stroke="none" stroke-width="0"/>
<polygon points="46.2,308.7 52.8,307.8 54.7,316.3 50.9,329.7 47.1,339.2 41.4,348.7 37.6,346.8 37.6,331.6 41.4,320.1 46.2,314.4" fill="none" stroke="#1a1a1a" stroke-width="0.9" stroke-linejoin="round" stroke-dasharray="2,1.5"/>
<polygon points="76.0,338.0 80.0,335.0 85.0,336.0 87.5,341.0 87.0,348.0 83.0,352.0 78.0,351.0 76.0,345.0" fill="#9ECCF7" stroke="none" stroke-width="0"/>
<polygon points="77.0,339.0 81.0,337.0 85.0,338.0 86.5,342.0 85.5,348.0 82.0,350.5 78.5,349.5 77.0,345.0" fill="#9ECCF7" stroke="none" stroke-width="0"/>
<polygon points="77.0,339.0 81.0,337.0 85.0,338.0 86.5,342.0 85.5,348.0 82.0,350.5 78.5,349.5 77.0,345.0" fill="none" stroke="#1a1a1a" stroke-width="0.9" stroke-linejoin="round" stroke-dasharray="2,1.5"/>
<polygon points="38.6,297.0 39.6,294.0 40.8,297.0 41.0,304.0 40.6,310.0 39.5,311.0 38.8,306.0" fill="#FEE67B" stroke="none" stroke-width="0"/>
<polygon points="38.6,297.0 39.6,294.0 40.8,297.0 41.0,304.0 40.6,310.0 39.5,311.0 38.8,306.0" fill="none" stroke="#1a1a1a" stroke-width="1.1" stroke-linejoin="round"/>
<polygon points="45.5,352.0 47.0,350.5 48.8,353.0 49.2,359.0 48.0,363.5 46.0,363.0 45.2,358.0" fill="#FEE67B" stroke="none" stroke-width="0"/>
<polygon points="45.5,352.0 47.0,350.5 48.8,353.0 49.2,359.0 48.0,363.5 46.0,363.0 45.2,358.0" fill="none" stroke="#1a1a1a" stroke-width="1.1" stroke-linejoin="round"/>
<polygon points="88.0,380.0 91.0,372.0 94.2,362.0 94.2,408.0 92.0,402.0 89.0,392.0" fill="#FEE67B" stroke="none" stroke-width="0"/>
<polygon points="88.0,380.0 91.0,372.0 94.2,362.0 94.2,408.0 92.0,402.0 89.0,392.0" fill="none" stroke="#1a1a1a" stroke-width="1.1" stroke-linejoin="round"/>
<polygon points="41.7,450.0 43.5,442.0 45.5,441.5 46.8,450.0 46.5,462.0 45.0,469.0 43.0,468.0 41.7,460.0" fill="#FEE67B" stroke="none" stroke-width="0"/>
<polygon points="41.7,450.0 43.5,442.0 45.5,441.5 46.8,450.0 46.5,462.0 45.0,469.0 43.0,468.0 41.7,460.0" fill="none" stroke="#1a1a1a" stroke-width="1.1" stroke-linejoin="round"/>
<polyline points="38.6,446.0 39.0,460.0 39.3,479.5" fill="none" stroke="#1a1a1a" stroke-width="1.2" stroke-linejoin="round"/>
<polyline points="40.2,446.0 40.4,460.0 40.6,479.5" fill="none" stroke="#1a1a1a" stroke-width="1.0" stroke-linejoin="round"/>
<ellipse cx="54.3" cy="457" rx="1.1" ry="11" fill="none" stroke="#1a1a1a" stroke-width="1.1"/>
<rect x="117.3" y="286.9" width="163.5" height="193.1" fill="#FEE67B" stroke="none" stroke-width="0"/>
<polygon points="117.3,296.0 125.0,299.0 132.0,300.0 140.0,302.0 145.0,308.0 150.0,314.0 156.0,318.5 163.0,322.0 170.0,325.5 178.0,328.5 188.0,331.0 197.0,331.5 205.0,330.0 210.0,331.0 214.0,340.0 213.0,350.0 209.0,360.0 206.0,372.0 203.0,380.0 197.3,381.7 188.8,382.8 182.4,384.9 176.0,391.3 169.6,395.6 163.2,397.7 154.7,399.9 148.3,406.3 144.0,412.7 139.7,419.1 137.6,414.8 133.3,397.7 124.8,393.5 117.3,391.3" fill="#FBC042" stroke="none" stroke-width="0"/>
<polygon points="117.3,301.1 119.6,305.0 123.4,306.9 128.2,307.3 132.0,305.4 135.8,304.5 140.0,307.6 142.9,312.4 145.7,318.1 151.4,321.0 159.0,326.7 166.7,330.5 173.3,333.8 180.0,336.2 187.6,338.1 193.3,339.0 199.0,336.7 204.8,338.1 209.7,337.4 206.3,344.3 201.1,351.1 197.7,356.3 196.0,361.4 194.3,370.0 189.1,378.5 182.3,383.7 176.0,387.0 169.6,387.1 163.2,391.3 154.7,388.1 146.1,389.2 141.9,397.7 137.6,412.7 135.5,423.3 131.2,404.1 124.8,395.6 117.3,393.5" fill="#F9A010" stroke="none" stroke-width="0"/>
<polygon points="117.3,309.7 121.5,312.6 126.3,314.5 131.0,313.5 134.9,315.4 138.7,316.4 142.5,320.2 146.3,325.0 150.1,328.8 155.0,331.8 159.0,332.4 166.7,335.2 173.3,338.1 180.0,341.9 184.8,346.7 186.4,352.6 185.4,362.2 180.6,367.9 173.0,373.6 163.5,375.5 155.9,376.5 148.0,375.0 140.0,372.0 137.6,380.0 136.0,400.0 134.4,403.0 133.0,395.0 132.0,375.0 128.0,372.0 122.0,370.0 117.3,368.0" fill="#F56A12" stroke="none" stroke-width="0"/>
<polygon points="117.3,312.5 121.5,315.5 126.3,317.5 131.0,317.5 135.8,320.5 140.0,327.6 142.9,333.3 146.7,338.1 151.4,340.0 159.0,338.1 164.8,340.0 171.4,341.9 178.1,344.8 181.5,349.0 180.6,353.0 179.7,360.3 174.9,366.0 165.4,369.8 155.9,370.8 150.1,367.9 142.5,366.0 134.9,364.1 131.1,367.9 129.2,372.0 125.0,360.0 120.0,350.0 117.3,347.0" fill="#F0360E" stroke="none" stroke-width="0"/>
<polygon points="135.8,343.1 142.5,341.2 150.1,343.1 155.9,346.9 161.6,347.9 169.2,349.8 175.9,352.6 174.9,358.4 169.2,360.3 161.6,362.2 150.1,363.1 142.5,360.3 136.8,354.6" fill="#BF0A0A" stroke="none" stroke-width="0"/>
<polygon points="124.4,324.0 126.5,322.0 128.2,326.0 127.8,333.6 126.0,333.0 124.6,329.0" fill="#BF0A0A" stroke="none" stroke-width="0"/>
<polygon points="127.3,340.0 129.5,337.4 131.1,342.0 130.5,350.7 128.5,350.0 127.5,345.0" fill="#BF0A0A" stroke="none" stroke-width="0"/>
<polyline points="117.3,301.1 119.6,305.0 123.4,306.9 128.2,307.3 132.0,305.4 135.8,304.5 140.0,307.6 142.9,312.4 145.7,318.1 151.4,321.0 159.0,326.7 166.7,330.5 173.3,333.8 180.0,336.2 187.6,338.1 193.3,339.0 199.0,336.7 204.8,338.1 209.7,337.4 206.3,344.3 201.1,351.1 197.7,356.3 196.0,361.4 194.3,370.0 189.1,378.5 182.3,383.7 176.0,387.0 169.6,387.1 163.2,391.3 154.7,388.1 146.1,389.2 141.9,397.7 137.6,412.7 135.5,423.3 131.2,404.1 124.8,395.6 117.3,393.5" fill="none" stroke="#1a1a1a" stroke-width="1.0" stroke-linejoin="round"/>
<polyline points="117.3,309.7 121.5,312.6 126.3,314.5 131.0,313.5 134.9,315.4 138.7,316.4 142.5,320.2 146.3,325.0 150.1,328.8 155.0,331.8 159.0,332.4 166.7,335.2 173.3,338.1 180.0,341.9 184.8,346.7 186.4,352.6 185.4,362.2 180.6,367.9 173.0,373.6 163.5,375.5 155.9,376.5 148.0,375.0 140.0,372.0 137.6,380.0 136.0,400.0 134.4,403.0 133.0,395.0 132.0,375.0 128.0,372.0 122.0,370.0 117.3,368.0" fill="none" stroke="#1a1a1a" stroke-width="1.0" stroke-linejoin="round"/>
<polyline points="117.3,312.5 121.5,315.5 126.3,317.5 131.0,317.5 135.8,320.5 140.0,327.6 142.9,333.3 146.7,338.1 151.4,340.0 159.0,338.1 164.8,340.0 171.4,341.9 178.1,344.8 181.5,349.0 180.6,353.0 179.7,360.3 174.9,366.0 165.4,369.8 155.9,370.8 150.1,367.9 142.5,366.0 134.9,364.1 131.1,367.9 129.2,372.0 125.0,360.0 120.0,350.0 117.3,347.0" fill="none" stroke="#1a1a1a" stroke-width="1.0" stroke-linejoin="round"/>
<polyline points="135.8,343.1 142.5,341.2 150.1,343.1 155.9,346.9 161.6,347.9 169.2,349.8 175.9,352.6 174.9,358.4 169.2,360.3 161.6,362.2 150.1,363.1 142.5,360.3 136.8,354.6 135.8,343.1" fill="none" stroke="#1a1a1a" stroke-width="1.0" stroke-linejoin="round"/>
<polygon points="195.0,325.0 205.0,321.0 215.0,322.0 225.0,321.0 233.0,324.0 236.0,335.0 232.0,345.0 222.0,346.0 212.0,340.0 205.0,345.0 195.0,350.0" fill="#FCD468" stroke="none" stroke-width="0"/>
<polygon points="152.0,286.9 153.0,303.1 154.9,312.6 161.6,319.3 169.2,323.1 178.7,324.0 188.3,322.1 195.0,320.2 200.7,318.3 206.4,314.5 210.3,320.2 214.1,316.4 217.9,318.3 221.7,314.5 225.5,318.3 229.3,314.5 232.2,309.7 236.0,312.6 237.9,322.1 238.9,331.7 241.7,341.2 244.6,350.7 245.5,360.3 246.5,369.8 247.4,384.0 246.5,416.4 249.5,432.5 253.5,444.6 255.5,444.6 259.6,440.6 263.6,444.6 267.6,452.7 269.7,442.6 271.7,416.4 275.7,408.3 280.8,408.3 280.8,286.9" fill="#B1EEF9" stroke="none" stroke-width="0"/>
<polyline points="152.0,286.9 153.0,303.1 154.9,312.6 161.6,319.3 169.2,323.1 178.7,324.0 188.3,322.1 195.0,320.2 200.7,318.3 206.4,314.5 210.3,320.2 214.1,316.4 217.9,318.3 221.7,314.5 225.5,318.3 229.3,314.5 232.2,309.7 236.0,312.6 237.9,322.1 238.9,331.7 241.7,341.2 244.6,350.7 245.5,360.3 246.5,369.8 247.4,384.0 246.5,416.4 249.5,432.5 253.5,444.6 255.5,444.6 259.6,440.6 263.6,444.6 267.6,452.7 269.7,442.6 271.7,416.4 275.7,408.3 280.8,408.3" fill="none" stroke="#1a1a1a" stroke-width="1.2" stroke-linejoin="round"/>
<polygon points="117.3,440.4 119.5,429.7 121.6,423.3 124.8,427.6 129.1,434.0 133.3,442.5 135.5,451.0 137.6,446.8 139.7,440.4 144.0,434.0 148.3,431.8 152.5,434.0 156.8,427.6 161.1,419.1 163.2,408.4 165.3,402.0 169.6,399.9 173.8,402.0 176.0,408.4 179.2,411.6 182.4,413.7 186.6,414.8 190.9,410.5 195.2,397.7 199.4,389.2 204.5,383.7 206.3,370.0 208.0,358.0 209.7,358.0 209.5,400.0 207.5,480.0 117.3,480.0" fill="#B1EEF9" stroke="none" stroke-width="0"/>
<polyline points="117.3,440.4 119.5,429.7 121.6,423.3 124.8,427.6 129.1,434.0 133.3,442.5 135.5,451.0 137.6,446.8 139.7,440.4 144.0,434.0 148.3,431.8 152.5,434.0 156.8,427.6 161.1,419.1 163.2,408.4 165.3,402.0 169.6,399.9 173.8,402.0 176.0,408.4 179.2,411.6 182.4,413.7 186.6,414.8 190.9,410.5 195.2,397.7 199.4,389.2 204.5,383.7 206.3,370.0 208.0,358.0 209.7,358.0 209.5,400.0 207.5,480.0" fill="none" stroke="#1a1a1a" stroke-width="1.2" stroke-linejoin="round"/>
<polygon points="211.0,376.0 214.8,361.4 216.5,351.1 223.4,350.3 228.5,354.5 233.7,363.1 237.1,373.4 239.4,380.0 235.4,388.1 231.3,396.2 225.3,400.2 223.2,398.2 219.2,388.1 215.2,380.0" fill="#B1EEF9" stroke="none" stroke-width="0"/>
<polygon points="211.0,376.0 214.8,361.4 216.5,351.1 223.4,350.3 228.5,354.5 233.7,363.1 237.1,373.4 239.4,380.0 235.4,388.1 231.3,396.2 225.3,400.2 223.2,398.2 219.2,388.1 215.2,380.0" fill="none" stroke="#1a1a1a" stroke-width="1.2" stroke-linejoin="round"/>
<polygon points="156.0,287.0 175.0,287.0 175.0,300.0 172.0,310.0 165.0,312.0 158.0,310.0 156.0,300.0" fill="#9ECCF7" stroke="none" stroke-width="0"/>
<polygon points="181.0,290.0 192.0,290.0 192.0,300.0 188.0,307.0 182.0,305.0" fill="#9ECCF7" stroke="none" stroke-width="0"/>
<polygon points="243.0,305.0 250.0,301.0 258.0,303.0 262.0,312.0 261.0,325.0 256.0,331.0 248.0,332.0 243.0,325.0 242.0,315.0" fill="#9ECCF7" stroke="none" stroke-width="0"/>
<polygon points="246.0,306.0 252.0,304.0 257.0,306.0 259.0,314.0 257.0,324.0 252.0,328.0 247.0,327.0 245.0,318.0" fill="#78B2F4" stroke="none" stroke-width="0"/>
<polygon points="246.0,306.0 252.0,304.0 257.0,306.0 259.0,314.0 257.0,324.0 252.0,328.0 247.0,327.0 245.0,318.0" fill="none" stroke="#1a1a1a" stroke-width="0.9" stroke-linejoin="round" stroke-dasharray="2,1.5"/>
<polygon points="266.0,292.0 272.0,289.7 280.8,289.7 280.8,356.0 276.0,350.0 272.0,340.0 268.0,325.0 265.6,305.0" fill="#9ECCF7" stroke="none" stroke-width="0"/>
<polygon points="268.0,296.0 274.0,291.6 280.0,293.0 280.8,322.0 276.0,318.0 271.0,312.0 268.0,304.0" fill="#78B2F4" stroke="none" stroke-width="0"/>
<polygon points="268.0,296.0 274.0,291.6 280.0,293.0 280.8,322.0 276.0,318.0 271.0,312.0 268.0,304.0" fill="none" stroke="#1a1a1a" stroke-width="0.9" stroke-linejoin="round" stroke-dasharray="2,1.5"/>
<polygon points="224.0,300.0 226.0,295.4 229.0,296.0 229.3,302.0 227.0,305.0 224.5,305.0" fill="#FEE67B" stroke="none" stroke-width="0"/>
<polygon points="224.0,300.0 226.0,295.4 229.0,296.0 229.3,302.0 227.0,305.0 224.5,305.0" fill="none" stroke="#1a1a1a" stroke-width="1.1" stroke-linejoin="round"/>
<polygon points="236.0,293.0 244.6,292.6 243.0,298.0 240.0,300.2 238.0,297.0" fill="#FEE67B" stroke="none" stroke-width="0"/>
<polygon points="236.0,293.0 244.6,292.6 243.0,298.0 240.0,300.2 238.0,297.0" fill="none" stroke="#1a1a1a" stroke-width="1.1" stroke-linejoin="round"/>
<polygon points="258.0,290.0 262.0,287.8 268.0,288.0 268.4,292.0 264.0,295.4 260.0,294.0" fill="#FEE67B" stroke="none" stroke-width="0"/>
<polygon points="258.0,290.0 262.0,287.8 268.0,288.0 268.4,292.0 264.0,295.4 260.0,294.0" fill="none" stroke="#1a1a1a" stroke-width="1.1" stroke-linejoin="round"/>
<ellipse cx="226.8" cy="453.7" rx="4.5" ry="11" fill="#FBC042"/>
<ellipse cx="144" cy="293" rx="6" ry="4" fill="#FBD060" opacity="0.6"/>
<rect x="316.1" y="286.9" width="57.5" height="193.1" fill="#FEE67B" stroke="none" stroke-width="0"/>
<polygon points="316.1,292.0 330.0,290.0 345.0,291.0 360.0,290.0 373.6,292.0 373.6,330.0 365.0,335.0 355.0,330.0 345.0,328.0 335.0,332.0 325.0,330.0 316.1,335.0" fill="#FCD468" stroke="none" stroke-width="0"/>
<polygon points="355.0,350.0 362.0,340.0 368.0,345.0 373.6,355.0 373.6,420.0 366.0,418.0 358.0,405.0 354.0,380.0" fill="#FCD468" stroke="none" stroke-width="0"/>
<polygon points="316.1,390.0 322.0,385.0 330.0,390.0 334.0,410.0 333.0,440.0 326.0,445.0 318.0,435.0" fill="#FCD468" stroke="none" stroke-width="0"/>
<polygon points="358.5,376.0 368.6,376.0 372.6,386.1 372.6,398.2 368.6,406.3 362.5,398.2 358.5,386.1" fill="#FBC860" stroke="none" stroke-width="0"/>
<polygon points="324.2,396.2 328.2,398.2 330.2,416.4 331.2,440.6 328.2,436.6 325.2,416.4" fill="#FBC050" stroke="none" stroke-width="0"/>
<polygon points="369.0,366.0 373.6,362.0 373.6,390.0 370.0,384.0" fill="#FBC860" stroke="none" stroke-width="0"/>
<polygon points="336.6,308.8 346.1,303.1 355.7,303.1 360.5,306.9 359.5,314.5 351.9,318.3 342.3,322.1 336.6,320.2 334.7,314.5" fill="#F9A010" stroke="none" stroke-width="0"/>
<polygon points="336.6,308.8 346.1,303.1 355.7,303.1 360.5,306.9 359.5,314.5 351.9,318.3 342.3,322.1 336.6,320.2 334.7,314.5" fill="none" stroke="#1a1a1a" stroke-width="1.1" stroke-linejoin="round"/>
<polygon points="327.1,316.4 329.0,320.2 327.1,327.9 324.2,333.6 322.3,341.2 320.4,345.0 318.5,341.2 321.4,333.6 325.2,327.9 326.1,320.2" fill="#F9A010" stroke="none" stroke-width="0"/>
<polygon points="327.1,316.4 329.0,320.2 327.1,327.9 324.2,333.6 322.3,341.2 320.4,345.0 318.5,341.2 321.4,333.6 325.2,327.9 326.1,320.2" fill="none" stroke="#1a1a1a" stroke-width="1.1" stroke-linejoin="round"/>
<polygon points="329.0,329.8 332.8,328.8 336.6,331.7 338.5,339.3 334.7,345.0 330.9,354.6 329.0,364.1 327.1,375.5 325.2,379.4 321.4,381.3 319.4,379.4 323.3,366.0 325.2,350.8 326.1,339.3 328.0,331.7" fill="#B1EEF9" stroke="none" stroke-width="0"/>
<polygon points="329.0,329.8 332.8,328.8 336.6,331.7 338.5,339.3 334.7,345.0 330.9,354.6 329.0,364.1 327.1,375.5 325.2,379.4 321.4,381.3 319.4,379.4 323.3,366.0 325.2,350.8 326.1,339.3 328.0,331.7" fill="none" stroke="#1a1a1a" stroke-width="1.1" stroke-linejoin="round"/>
<ellipse cx="345.7" cy="348.8" rx="2.3" ry="7.6" fill="#B1EEF9" stroke="#1a1a1a" stroke-width="1.1"/>
<ellipse cx="346.6" cy="371.7" rx="2.3" ry="7.6" fill="#B1EEF9" stroke="#1a1a1a" stroke-width="1.1"/>
<polygon points="355.0,320.0 358.0,318.3 359.5,322.0 358.5,330.0 356.0,333.6 353.0,331.0 352.8,326.0" fill="#B1EEF9" stroke="none" stroke-width="0"/>
<polygon points="355.0,320.0 358.0,318.3 359.5,322.0 358.5,330.0 356.0,333.6 353.0,331.0 352.8,326.0" fill="none" stroke="#1a1a1a" stroke-width="1.1" stroke-linejoin="round"/>
<polygon points="363.0,317.0 365.0,314.5 367.0,318.0 367.1,330.0 365.5,335.5 363.0,333.0 362.4,325.0" fill="#B1EEF9" stroke="none" stroke-width="0"/>
<polygon points="363.0,317.0 365.0,314.5 367.0,318.0 367.1,330.0 365.5,335.5 363.0,333.0 362.4,325.0" fill="none" stroke="#1a1a1a" stroke-width="1.1" stroke-linejoin="round"/>
<polygon points="316.1,286.9 319.4,286.9 319.4,312.6 316.1,312.6" fill="#B1EEF9" stroke="none" stroke-width="0"/>
<polyline points="319.4,286.9 319.4,312.6 316.1,312.6" fill="none" stroke="#1a1a1a" stroke-width="1.2" stroke-linejoin="round"/>
<polygon points="366.0,292.0 369.0,289.7 373.6,289.7 373.6,316.4 370.0,314.0 367.0,305.0 365.2,298.0" fill="#9ECCF7" stroke="none" stroke-width="0"/>
<polyline points="373.6,316.4 370.0,312.0 368.0,305.0 366.5,298.0 368.0,292.0 370.0,290.0 373.6,289.5" fill="none" stroke="#1a1a1a" stroke-width="1.0" stroke-linejoin="round"/>
<polygon points="348.4,480.0 349.4,426.5 351.4,412.3 353.4,409.3 355.4,412.3 357.5,424.5 358.5,434.6 362.5,432.5 366.6,430.5 370.6,432.5 373.6,429.5 373.6,480.0" fill="#B1EEF9" stroke="none" stroke-width="0"/>
<polyline points="348.4,480.0 349.4,426.5 351.4,412.3 353.4,409.3 355.4,412.3 357.5,424.5 358.5,434.6 362.5,432.5 366.6,430.5 370.6,432.5 373.6,429.5" fill="none" stroke="#1a1a1a" stroke-width="1.2" stroke-linejoin="round"/>
<polyline points="356.5,480.0 357.5,468.9 358.5,480.0" fill="none" stroke="#1a1a1a" stroke-width="1.1" stroke-linejoin="round"/>
<line x1="179.3" y1="286.9" x2="179.3" y2="480.0" stroke="#2a2a2a" stroke-width="0.7"/>
<rect x="49.6" y="301.7" width="5.6" height="7.2" fill="#fff"/>
<text x="52.4" y="308.0" font-size="7.6" text-anchor="middle" font-weight="normal" fill="#222">0</text>
<rect x="42.1" y="318.4" width="10.0" height="7.2" fill="#fff"/>
<text x="47.1" y="324.7" font-size="7.6" text-anchor="middle" font-weight="normal" fill="#222">−1</text>
<rect x="71.0" y="325.1" width="5.6" height="7.2" fill="#fff"/>
<text x="73.8" y="331.4" font-size="7.6" text-anchor="middle" font-weight="normal" fill="#222">1</text>
<rect x="89.0" y="336.5" width="5.6" height="7.2" fill="#fff"/>
<text x="91.8" y="342.8" font-size="7.6" text-anchor="middle" font-weight="normal" fill="#222">2</text>
<rect x="116.8" y="313.8" width="5.6" height="7.2" fill="#fff"/>
<text x="119.6" y="320.1" font-size="7.6" text-anchor="middle" font-weight="normal" fill="#222">3</text>
<rect x="149.2" y="327.4" width="5.6" height="7.2" fill="#fff"/>
<text x="152.0" y="333.7" font-size="7.6" text-anchor="middle" font-weight="normal" fill="#222">2</text>
<rect x="192.2" y="335.4" width="5.6" height="7.2" fill="#fff"/>
<text x="195.0" y="341.7" font-size="7.6" text-anchor="middle" font-weight="normal" fill="#222">1</text>
<rect x="153.2" y="339.4" width="5.6" height="7.2" fill="#fff"/>
<text x="156.0" y="345.7" font-size="7.6" text-anchor="middle" font-weight="normal" fill="#222">4</text>
<rect x="152.2" y="368.4" width="5.6" height="7.2" fill="#fff"/>
<text x="155.0" y="374.7" font-size="7.6" text-anchor="middle" font-weight="normal" fill="#222">3</text>
<rect x="144.2" y="385.4" width="5.6" height="7.2" fill="#fff"/>
<text x="147.0" y="391.7" font-size="7.6" text-anchor="middle" font-weight="normal" fill="#222">1</text>
<rect x="131.6" y="399.4" width="5.6" height="7.2" fill="#fff"/>
<text x="134.4" y="405.7" font-size="7.6" text-anchor="middle" font-weight="normal" fill="#222">2</text>
<rect x="147.2" y="434.4" width="5.6" height="7.2" fill="#fff"/>
<text x="150.0" y="440.7" font-size="7.6" text-anchor="middle" font-weight="normal" fill="#222">0</text>
<rect x="206.5" y="353.4" width="5.6" height="7.2" fill="#fff"/>
<text x="209.3" y="359.7" font-size="7.6" text-anchor="middle" font-weight="normal" fill="#222">0</text>
<rect x="220.8" y="346.4" width="5.6" height="7.2" fill="#fff"/>
<text x="223.6" y="352.7" font-size="7.6" text-anchor="middle" font-weight="normal" fill="#222">0</text>
<rect x="229.4" y="305.2" width="5.6" height="7.2" fill="#fff"/>
<text x="232.2" y="311.5" font-size="7.6" text-anchor="middle" font-weight="normal" fill="#222">0</text>
<rect x="248.0" y="293.4" width="10.0" height="7.2" fill="#fff"/>
<text x="253.0" y="299.7" font-size="7.6" text-anchor="middle" font-weight="normal" fill="#222">−1</text>
<rect x="35.9" y="443.4" width="5.6" height="7.2" fill="#fff"/>
<text x="38.7" y="449.7" font-size="7.6" text-anchor="middle" font-weight="normal" fill="#222">0</text>
<rect x="251.2" y="442.4" width="5.6" height="7.2" fill="#fff"/>
<text x="254.0" y="448.7" font-size="7.6" text-anchor="middle" font-weight="normal" fill="#222">0</text>
<rect x="462.4" y="282.3" width="57.5" height="190.7" fill="#FEE67B" stroke="none" stroke-width="0"/>
<polygon points="462.4,320.0 464.0,315.0 468.0,312.0 470.5,300.0 473.0,293.0 476.0,291.5 481.0,294.0 486.0,299.0 489.5,304.0 489.0,311.0 487.0,318.0 485.0,326.0 483.5,334.0 482.5,342.0 481.5,350.0 480.0,358.0 478.0,366.0 476.0,374.0 472.0,384.0 468.0,390.0 464.0,392.0 462.4,392.0" fill="#FBC042" stroke="none" stroke-width="0"/>
<polygon points="462.4,327.6 464.5,321.8 468.3,318.0 472.1,312.3 474.0,299.0 475.9,297.1 479.7,299.0 483.5,302.8 487.3,306.6 488.3,310.4 485.4,318.0 483.5,325.7 481.6,333.3 480.7,340.9 479.7,348.5 477.8,356.1 474.0,363.7 470.2,367.5 466.4,371.3 464.5,377.0 462.6,379.9" fill="#F9A010" stroke="none" stroke-width="0"/>
<polyline points="462.4,327.6 464.5,321.8 468.3,318.0 472.1,312.3 474.0,299.0 475.9,297.1 479.7,299.0 483.5,302.8 487.3,306.6 488.3,310.4 485.4,318.0 483.5,325.7 481.6,333.3 480.7,340.9 479.7,348.5 477.8,356.1 474.0,363.7 470.2,367.5 466.4,371.3 464.5,377.0 462.6,379.9" fill="none" stroke="#1a1a1a" stroke-width="1.0" stroke-linejoin="round"/>
<polygon points="463.6,331.0 466.4,327.6 470.2,325.7 473.0,329.5 473.0,337.1 471.1,344.7 468.3,344.7 465.5,340.9 463.6,337.1" fill="#F56A12" stroke="none" stroke-width="0"/>
<polygon points="463.6,331.0 466.4,327.6 470.2,325.7 473.0,329.5 473.0,337.1 471.1,344.7 468.3,344.7 465.5,340.9 463.6,337.1" fill="none" stroke="#1a1a1a" stroke-width="1.0" stroke-linejoin="round"/>
<polygon points="488.3,296.0 496.8,293.5 504.5,293.0 512.1,294.0 519.9,296.0 519.9,328.0 510.0,327.0 500.0,325.0 492.0,321.0 487.0,314.0" fill="#FBC042" stroke="none" stroke-width="0"/>
<polygon points="488.3,304.7 491.1,300.9 496.8,299.0 504.5,298.1 512.1,299.0 519.9,300.9 519.9,325.7 512.1,323.8 504.5,321.8 496.8,320.0 491.1,316.1 488.3,310.4" fill="#F9A010" stroke="none" stroke-width="0"/>
<polyline points="488.3,304.7 491.1,300.9 496.8,299.0 504.5,298.1 512.1,299.0 519.9,300.9 519.9,325.7 512.1,323.8 504.5,321.8 496.8,320.0 491.1,316.1 488.3,310.4" fill="none" stroke="#1a1a1a" stroke-width="1.0" stroke-linejoin="round"/>
<polygon points="496.8,306.6 502.6,305.7 512.1,306.6 519.9,308.5 519.9,321.8 512.1,320.9 504.5,318.0 498.8,314.2 496.8,310.4" fill="#F56A12" stroke="none" stroke-width="0"/>
<polyline points="496.8,306.6 502.6,305.7 512.1,306.6 519.9,308.5 519.9,321.8 512.1,320.9 504.5,318.0 498.8,314.2 496.8,310.4" fill="none" stroke="#1a1a1a" stroke-width="1.0" stroke-linejoin="round"/>
<polygon points="503.5,312.3 510.2,311.4 517.8,314.2 517.8,319.0 510.2,319.0 504.5,317.1" fill="#F0360E" stroke="none" stroke-width="0"/>
<polygon points="503.5,312.3 510.2,311.4 517.8,314.2 517.8,319.0 510.2,319.0 504.5,317.1" fill="none" stroke="#1a1a1a" stroke-width="1.0" stroke-linejoin="round"/>
<polygon points="500.7,325.7 506.4,323.8 512.1,324.7 519.9,325.7 519.9,358.0 512.1,356.1 506.4,352.3 502.6,346.6 500.7,337.1" fill="#B1EEF9" stroke="none" stroke-width="0"/>
<polyline points="500.7,325.7 506.4,323.8 512.1,324.7 519.9,325.7 519.9,358.0 512.1,356.1 506.4,352.3 502.6,346.6 500.7,337.1" fill="none" stroke="#1a1a1a" stroke-width="1.2" stroke-linejoin="round"/>
<polygon points="503.5,327.3 510.0,326.5 517.8,327.5 519.0,334.0 518.7,340.0 512.1,341.5 504.5,340.0 502.6,333.3" fill="#8EC0F2" stroke="none" stroke-width="0"/>
<polygon points="503.5,327.3 510.0,326.5 517.8,327.5 519.0,334.0 518.7,340.0 512.1,341.5 504.5,340.0 502.6,333.3" fill="none" stroke="#1a1a1a" stroke-width="0.9" stroke-linejoin="round" stroke-dasharray="2,1.5"/>
<polygon points="515.9,282.3 519.9,282.3 519.9,291.4 517.0,289.0" fill="#B1EEF9" stroke="none" stroke-width="0"/>
<polyline points="515.9,282.3 517.0,289.0 519.9,291.4" fill="none" stroke="#1a1a1a" stroke-width="1.0" stroke-linejoin="round"/>
<polyline points="462.8,285.7 463.5,295.0 464.0,304.7" fill="none" stroke="#1a1a1a" stroke-width="1.2" stroke-linejoin="round"/>
<ellipse cx="494" cy="392" rx="2.8" ry="11" fill="#B1EEF9" stroke="#1a1a1a" stroke-width="1.1"/>
<rect x="543.8" y="282.3" width="165.7" height="190.7" fill="#FEE67B" stroke="none" stroke-width="0"/>
<polygon points="543.8,282.3 600.0,282.3 600.0,300.0 595.0,318.0 600.0,330.0 620.0,335.0 640.0,330.0 660.0,312.0 675.0,296.0 690.0,283.8 696.0,282.3 701.0,282.3 699.0,300.0 696.0,315.0 692.0,330.0 686.0,345.0 676.0,356.0 660.0,365.0 645.0,372.0 630.0,385.0 615.0,385.0 605.0,380.0 595.0,373.0 587.0,368.0 567.0,368.0 566.8,380.0 565.8,392.0 562.7,411.0 559.6,426.0 555.5,426.0 550.0,412.0 543.8,408.0" fill="#FBC042" stroke="none" stroke-width="0"/>
<polygon points="694.6,473.0 695.6,431.8 696.7,400.9 698.7,380.3 700.8,370.0 704.0,362.0 709.5,367.6 709.5,473.0" fill="#FBC042" stroke="none" stroke-width="0"/>
<polygon points="620.0,378.0 650.0,372.0 670.0,360.0 690.0,350.0 698.0,345.0 698.0,372.0 680.0,376.0 660.0,378.0 640.0,382.0" fill="#FBC042" stroke="none" stroke-width="0"/>
<polygon points="543.8,304.8 549.5,301.9 555.3,299.1 564.8,299.1 573.4,301.0 578.1,299.1 579.1,291.4 580.0,282.3 591.5,282.3 592.4,295.3 594.3,308.6 597.2,316.2 602.9,320.0 608.6,321.0 616.3,322.9 620.0,323.5 627.5,322.2 634.0,319.5 641.3,316.0 649.0,311.5 656.6,306.8 668.8,299.2 678.0,293.1 684.1,290.0 690.0,285.5 694.0,282.3 700.0,282.3 698.0,289.5 694.2,299.0 690.4,308.6 686.6,318.1 682.8,329.5 677.1,339.0 669.5,344.7 663.8,346.6 658.1,350.4 648.6,356.1 639.0,361.9 629.5,365.7 620.0,369.5 612.0,366.0 608.6,365.8 602.9,363.9 593.4,363.9 585.8,362.0 578.1,360.1 572.4,356.3 566.7,348.6 562.0,346.0 565.0,360.0 566.8,370.0 565.8,390.6 562.7,411.2 559.6,421.5 555.5,421.5 552.4,411.2 548.2,400.9 543.8,403.0" fill="#F9A010" stroke="none" stroke-width="0"/>
<polyline points="543.8,304.8 549.5,301.9 555.3,299.1 564.8,299.1 573.4,301.0 578.1,299.1 579.1,291.4 580.0,282.3 591.5,282.3 592.4,295.3 594.3,308.6 597.2,316.2 602.9,320.0 608.6,321.0 616.3,322.9 620.0,323.5 627.5,322.2 634.0,319.5 641.3,316.0 649.0,311.5 656.6,306.8 668.8,299.2 678.0,293.1 684.1,290.0 690.0,285.5 694.0,282.3" fill="none" stroke="#1a1a1a" stroke-width="1.0" stroke-linejoin="round"/>
<polyline points="700.0,282.3 698.0,289.5 694.2,299.0 690.4,308.6 686.6,318.1 682.8,329.5 677.1,339.0 669.5,344.7 663.8,346.6 658.1,350.4 648.6,356.1 639.0,361.9 629.5,365.7 620.0,369.5 612.0,366.0 608.6,365.8 602.9,363.9 593.4,363.9 585.8,362.0 578.1,360.1 572.4,356.3 566.7,348.6 562.0,346.0 565.0,360.0 566.8,370.0 565.8,390.6 562.7,411.2 559.6,421.5 555.5,421.5 552.4,411.2 548.2,400.9 543.8,403.0" fill="none" stroke="#1a1a1a" stroke-width="1.0" stroke-linejoin="round"/>
<polygon points="553.3,312.4 555.3,312.0 555.8,325.0 555.3,335.3 553.8,334.0 553.3,322.0" fill="#FBC042" stroke="none" stroke-width="0"/>
<polyline points="553.3,312.4 555.3,312.0 555.8,325.0 555.3,335.3 553.8,334.0 553.3,322.0 553.3,312.4" fill="none" stroke="#1a1a1a" stroke-width="1.0" stroke-linejoin="round"/>
<polygon points="561.0,312.4 562.9,310.5 566.7,312.4 572.4,318.1 580.0,321.0 587.7,325.8 597.2,331.5 606.7,335.3 616.3,335.3 620.0,335.0 626.0,332.9 633.0,329.5 641.3,325.2 653.5,316.0 664.2,308.4 675.0,302.3 684.1,296.1 690.3,290.0 692.3,282.3 699.0,282.3 698.0,288.0 696.4,294.6 693.3,302.3 687.2,309.9 679.5,319.1 670.4,328.3 661.2,335.9 652.0,342.1 641.3,348.2 630.5,354.3 619.8,358.1 608.6,356.3 601.0,355.3 593.4,354.4 585.8,350.6 578.1,341.0 570.5,333.4 564.8,323.9" fill="#F56A12" stroke="none" stroke-width="0"/>
<polyline points="561.0,312.4 562.9,310.5 566.7,312.4 572.4,318.1 580.0,321.0 587.7,325.8 597.2,331.5 606.7,335.3 616.3,335.3 620.0,335.0 626.0,332.9 633.0,329.5 641.3,325.2 653.5,316.0 664.2,308.4 675.0,302.3 684.1,296.1 690.3,290.0 692.3,282.3" fill="none" stroke="#1a1a1a" stroke-width="1.0" stroke-linejoin="round"/>
<polyline points="699.0,282.3 698.0,288.0 696.4,294.6 693.3,302.3 687.2,309.9 679.5,319.1 670.4,328.3 661.2,335.9 652.0,342.1 641.3,348.2 630.5,354.3 619.8,358.1 608.6,356.3 601.0,355.3 593.4,354.4 585.8,350.6 578.1,341.0 570.5,333.4 564.8,323.9 561.0,312.4" fill="none" stroke="#1a1a1a" stroke-width="1.0" stroke-linejoin="round"/>
<polygon points="610.6,344.8 616.3,341.0 620.0,342.8 629.5,339.0 639.0,335.2 648.6,327.6 658.1,320.0 667.6,314.3 675.2,310.5 677.1,312.4 675.2,323.8 667.6,329.5 658.1,335.2 648.6,340.9 639.0,346.6 629.5,352.3 620.0,354.2 612.5,350.6" fill="#F0360E" stroke="none" stroke-width="0"/>
<polygon points="610.6,344.8 616.3,341.0 620.0,342.8 629.5,339.0 639.0,335.2 648.6,327.6 658.1,320.0 667.6,314.3 675.2,310.5 677.1,312.4 675.2,323.8 667.6,329.5 658.1,335.2 648.6,340.9 639.0,346.6 629.5,352.3 620.0,354.2 612.5,350.6" fill="none" stroke="#1a1a1a" stroke-width="1.0" stroke-linejoin="round"/>
<polygon points="683.8,300.0 686.0,295.2 688.5,297.0 688.3,305.0 686.0,308.6 684.0,306.0" fill="#F0360E" stroke="none" stroke-width="0"/>
<polygon points="683.8,300.0 686.0,295.2 688.5,297.0 688.3,305.0 686.0,308.6 684.0,306.0" fill="none" stroke="#1a1a1a" stroke-width="0.9" stroke-linejoin="round"/>
<polygon points="653.0,330.0 656.0,324.5 660.0,324.0 660.9,329.0 658.0,334.5 654.0,335.0" fill="#BF0A0A" stroke="none" stroke-width="0"/>
<polygon points="653.0,330.0 656.0,324.5 660.0,324.0 660.9,329.0 658.0,334.5 654.0,335.0" fill="none" stroke="#1a1a1a" stroke-width="0.9" stroke-linejoin="round"/>
<polygon points="629.5,344.0 632.0,341.9 634.3,343.5 633.0,346.6 630.5,346.5" fill="#BF0A0A" stroke="none" stroke-width="0"/>
<polygon points="629.5,344.0 632.0,341.9 634.3,343.5 633.0,346.6 630.5,346.5" fill="none" stroke="#1a1a1a" stroke-width="0.9" stroke-linejoin="round"/>
<ellipse cx="566.7" cy="324.8" rx="1.2" ry="2.5" fill="#BF0A0A"/>
<polygon points="551.4,352.0 553.0,348.6 555.0,349.0 557.2,352.0 556.5,365.0 555.5,380.0 553.0,380.0 552.0,366.0" fill="#F56A12" stroke="none" stroke-width="0"/>
<polygon points="551.4,352.0 553.0,348.6 555.0,349.0 557.2,352.0 556.5,365.0 555.5,380.0 553.0,380.0 552.0,366.0" fill="none" stroke="#1a1a1a" stroke-width="1.0" stroke-linejoin="round"/>
<polygon points="543.8,378.0 546.0,380.0 547.6,395.0 546.0,405.0 543.8,405.0" fill="#F56A12" stroke="none" stroke-width="0"/>
<polyline points="547.6,381.0 547.8,395.0 546.5,405.0" fill="none" stroke="#1a1a1a" stroke-width="1.0" stroke-linejoin="round"/>
<polygon points="563.6,473.0 564.6,456.6 566.7,442.2 566.8,429.8 570.9,423.6 573.0,417.4 573.4,400.9 574.6,386.5 576.7,374.1 580.2,370.0 583.9,367.7 586.7,371.5 589.5,380.3 593.6,388.6 599.8,394.7 601.8,398.9 602.3,431.8 602.5,466.0 603.9,467.5 605.5,466.0 606.2,436.0 608.0,430.8 610.1,433.9 611.1,452.5 611.1,473.0" fill="#B1EEF9" stroke="none" stroke-width="0"/>
<polyline points="563.6,473.0 564.6,456.6 566.7,442.2 566.8,429.8 570.9,423.6 573.0,417.4 573.4,400.9 574.6,386.5 576.7,374.1 580.2,370.0 583.9,367.7 586.7,371.5 589.5,380.3 593.6,388.6 599.8,394.7 601.8,398.9 602.3,431.8 602.5,466.0 603.9,467.5 605.5,466.0 606.2,436.0 608.0,430.8 610.1,433.9 611.1,452.5 611.1,473.0" fill="none" stroke="#1a1a1a" stroke-width="1.2" stroke-linejoin="round"/>
<polygon points="543.8,436.0 546.2,431.8 549.3,429.8 552.4,433.9 554.4,452.5 555.5,473.0 543.8,473.0" fill="#B1EEF9" stroke="none" stroke-width="0"/>
<polyline points="543.8,436.0 546.2,431.8 549.3,429.8 552.4,433.9 554.4,452.5 555.5,473.0" fill="none" stroke="#1a1a1a" stroke-width="1.2" stroke-linejoin="round"/>
<ellipse cx="583.3" cy="405" rx="2.6" ry="13.5" fill="#FDE57A" stroke="#1a1a1a" stroke-width="1.1"/>
<polygon points="577.0,375.0 579.5,372.0 581.0,380.0 579.5,390.0 577.5,386.0" fill="#9ECCF7" stroke="none" stroke-width="0"/>
<polygon points="633.3,282.3 637.1,291.4 640.9,297.1 646.7,298.1 652.4,295.2 658.1,293.3 665.7,289.5 669.5,285.7 671.4,282.3" fill="#B1EEF9" stroke="none" stroke-width="0"/>
<polyline points="633.3,282.3 637.1,291.4 640.9,297.1 646.7,298.1 652.4,295.2 658.1,293.3 665.7,289.5 669.5,285.7 671.4,282.3" fill="none" stroke="#1a1a1a" stroke-width="1.2" stroke-linejoin="round"/>
<polygon points="703.8,282.3 703.8,285.7 701.9,295.2 700.0,308.6 700.0,327.6 701.9,340.9 705.7,356.1 709.5,367.6 709.5,282.3" fill="#B1EEF9" stroke="none" stroke-width="0"/>
<polyline points="703.8,282.3 703.8,285.7 701.9,295.2 700.0,308.6 700.0,327.6 701.9,340.9 705.7,356.1 709.5,367.6" fill="none" stroke="#1a1a1a" stroke-width="1.2" stroke-linejoin="round"/>
<polygon points="705.0,290.0 709.5,287.6 709.5,312.0 706.0,307.0 704.5,298.0" fill="#9ECCF7" stroke="none" stroke-width="0"/>
<polyline points="705.5,289.0 704.8,298.0 706.0,306.0 708.5,311.0" fill="none" stroke="#1a1a1a" stroke-width="0.9" stroke-linejoin="round" stroke-dasharray="2,1.5"/>
<polyline points="709.5,425.7 708.0,442.0 707.4,473.0" fill="none" stroke="#1a1a1a" stroke-width="1.1" stroke-linejoin="round"/>
<rect x="744.5" y="282.3" width="57.3" height="190.7" fill="#FEE67B" stroke="none" stroke-width="0"/>
<polygon points="744.5,315.0 755.0,312.0 765.0,325.0 770.0,335.0 772.0,350.0 768.0,372.0 767.0,406.0 760.0,406.0 752.0,395.0 746.0,380.0 744.5,372.0" fill="#FBC042" stroke="none" stroke-width="0"/>
<polygon points="795.0,370.0 801.8,366.0 801.8,402.0 797.0,395.0" fill="#FBC042" stroke="none" stroke-width="0"/>
<polygon points="785.0,473.0 786.0,466.0 790.0,463.0 793.0,466.0 794.0,473.0" fill="#FBC042" stroke="none" stroke-width="0"/>
<polyline points="797.8,367.0 799.0,375.0 801.0,390.0 801.8,402.0" fill="none" stroke="#1a1a1a" stroke-width="1.0" stroke-linejoin="round"/>
<polygon points="761.7,306.7 767.4,299.0 775.0,295.2 782.6,296.2 783.5,300.9 780.7,308.6 775.0,316.2 769.3,321.9 761.7,322.8 759.7,316.2" fill="#F9A010" stroke="none" stroke-width="0"/>
<polygon points="761.7,306.7 767.4,299.0 775.0,295.2 782.6,296.2 783.5,300.9 780.7,308.6 775.0,316.2 769.3,321.9 761.7,322.8 759.7,316.2" fill="none" stroke="#1a1a1a" stroke-width="1.0" stroke-linejoin="round"/>
<polygon points="744.5,312.4 746.4,310.5 750.2,302.8 752.1,295.2 755.0,287.6 754.0,282.3 744.5,282.3" fill="#B1EEF9" stroke="none" stroke-width="0"/>
<polyline points="744.5,312.4 746.4,310.5 750.2,302.8 752.1,295.2 755.0,287.6 754.0,282.3" fill="none" stroke="#1a1a1a" stroke-width="1.2" stroke-linejoin="round"/>
<polygon points="769.3,282.3 780.7,282.3 780.0,285.7 770.0,285.7" fill="#B1EEF9" stroke="none" stroke-width="0"/>
<polyline points="769.3,282.3 770.0,285.7 780.0,285.7 780.7,282.3" fill="none" stroke="#1a1a1a" stroke-width="1.1" stroke-linejoin="round"/>
<polygon points="786.4,282.3 786.4,285.7 788.3,291.4 790.2,300.9 794.0,308.6 795.9,323.8 797.8,331.4 799.0,340.0 801.8,352.0 801.8,282.3" fill="#B1EEF9" stroke="none" stroke-width="0"/>
<polyline points="786.4,282.3 786.4,285.7 788.3,291.4 790.2,300.9 794.0,308.6 795.9,323.8 797.8,331.4 799.0,340.0 801.8,352.0" fill="none" stroke="#1a1a1a" stroke-width="1.2" stroke-linejoin="round"/>
<polygon points="790.0,285.0 796.0,283.0 801.8,283.0 801.8,322.0 798.0,316.0 794.0,305.0 791.0,294.0" fill="#9ECCF7" stroke="none" stroke-width="0"/>
<polygon points="794.0,286.0 798.0,284.0 801.8,284.0 801.8,312.0 799.0,306.0 796.0,297.0" fill="#78B2F4" stroke="none" stroke-width="0"/>
<polyline points="792.5,287.0 793.5,296.0 796.0,305.0 799.0,313.0" fill="none" stroke="#1a1a1a" stroke-width="0.9" stroke-linejoin="round" stroke-dasharray="2,1.5"/>
<polyline points="796.0,285.0 798.0,294.0 801.0,303.0" fill="none" stroke="#1a1a1a" stroke-width="0.9" stroke-linejoin="round" stroke-dasharray="2,1.5"/>
<polygon points="749.3,321.9 753.1,320.0 754.0,327.6 752.1,337.1 750.2,346.6 748.3,344.7 747.4,335.2" fill="#B1EEF9" stroke="none" stroke-width="0"/>
<polygon points="749.3,321.9 753.1,320.0 754.0,327.6 752.1,337.1 750.2,346.6 748.3,344.7 747.4,335.2" fill="none" stroke="#1a1a1a" stroke-width="1.1" stroke-linejoin="round"/>
<polygon points="778.0,382.0 780.0,380.0 782.0,382.0 785.0,400.0 788.0,408.0 785.0,416.0 781.0,422.0 777.0,432.0 775.0,430.0 775.0,410.0 776.0,394.0" fill="#B1EEF9" stroke="none" stroke-width="0"/>
<polygon points="778.0,382.0 780.0,380.0 782.0,382.0 785.0,400.0 788.0,408.0 785.0,416.0 781.0,422.0 777.0,432.0 775.0,430.0 775.0,410.0 776.0,394.0" fill="none" stroke="#1a1a1a" stroke-width="1.1" stroke-linejoin="round"/>
<polygon points="755.0,436.0 759.0,433.0 763.0,436.0 766.0,450.0 769.0,464.0 770.0,473.0 755.0,473.0 754.0,450.0" fill="#B1EEF9" stroke="none" stroke-width="0"/>
<polygon points="755.0,436.0 759.0,433.0 763.0,436.0 766.0,450.0 769.0,464.0 770.0,473.0 755.0,473.0 754.0,450.0" fill="none" stroke="#1a1a1a" stroke-width="1.1" stroke-linejoin="round"/>
<polyline points="746.0,428.0 747.0,450.0 748.0,473.0" fill="none" stroke="#1a1a1a" stroke-width="1.1" stroke-linejoin="round"/>
<line x1="606.4" y1="282.3" x2="606.4" y2="473.0" stroke="#2a2a2a" stroke-width="0.7"/>
<rect x="481.7" y="299.2" width="5.6" height="7.2" fill="#fff"/>
<text x="484.5" y="305.5" font-size="7.6" text-anchor="middle" font-weight="normal" fill="#222">1</text>
<rect x="551.5" y="296.4" width="5.6" height="7.2" fill="#fff"/>
<text x="554.3" y="302.7" font-size="7.6" text-anchor="middle" font-weight="normal" fill="#222">1</text>
<rect x="624.9" y="317.4" width="5.6" height="7.2" fill="#fff"/>
<text x="627.7" y="323.7" font-size="7.6" text-anchor="middle" font-weight="normal" fill="#222">1</text>
<rect x="612.5" y="332.7" width="5.6" height="7.2" fill="#fff"/>
<text x="615.3" y="339.0" font-size="7.6" text-anchor="middle" font-weight="normal" fill="#222">2</text>
<rect x="591.5" y="347.9" width="5.6" height="7.2" fill="#fff"/>
<text x="594.3" y="354.2" font-size="7.6" text-anchor="middle" font-weight="normal" fill="#222">2</text>
<rect x="551.5" y="341.2" width="5.6" height="7.2" fill="#fff"/>
<text x="554.3" y="347.5" font-size="7.6" text-anchor="middle" font-weight="normal" fill="#222">2</text>
<rect x="556.3" y="343.1" width="5.6" height="7.2" fill="#fff"/>
<text x="559.1" y="349.4" font-size="7.6" text-anchor="middle" font-weight="normal" fill="#222">1</text>
<rect x="618.2" y="350.8" width="5.6" height="7.2" fill="#fff"/>
<text x="621.0" y="357.1" font-size="7.6" text-anchor="middle" font-weight="normal" fill="#222">3</text>
<rect x="624.8" y="317.3" width="5.6" height="7.2" fill="#fff"/>
<text x="627.6" y="323.6" font-size="7.6" text-anchor="middle" font-weight="normal" fill="#222">1</text>
<rect x="651.5" y="352.5" width="5.6" height="7.2" fill="#fff"/>
<text x="654.3" y="358.8" font-size="7.6" text-anchor="middle" font-weight="normal" fill="#222">1</text>
<rect x="687.6" y="282.1" width="5.6" height="7.2" fill="#fff"/>
<text x="690.4" y="288.4" font-size="7.6" text-anchor="middle" font-weight="normal" fill="#222">2</text>
<rect x="568.1" y="421.0" width="5.6" height="7.2" fill="#fff"/>
<text x="570.9" y="427.3" font-size="7.6" text-anchor="middle" font-weight="normal" fill="#222">0</text>
<rect x="601.1" y="460.4" width="5.6" height="7.2" fill="#fff"/>
<text x="603.9" y="466.7" font-size="7.6" text-anchor="middle" font-weight="normal" fill="#222">0</text>
<rect x="782.2" y="293.4" width="5.6" height="7.2" fill="#fff"/>
<text x="785.0" y="299.7" font-size="7.6" text-anchor="middle" font-weight="normal" fill="#222">1</text>
<rect x="781.2" y="311.4" width="5.6" height="7.2" fill="#fff"/>
<text x="784.0" y="317.7" font-size="7.6" text-anchor="middle" font-weight="normal" fill="#222">0</text>
<rect x="776.2" y="377.4" width="5.6" height="7.2" fill="#fff"/>
<text x="779.0" y="383.7" font-size="7.6" text-anchor="middle" font-weight="normal" fill="#222">0</text>
<rect x="24.4" y="36.6" width="371.2" height="193.9" fill="none" stroke="#000" stroke-width="1.6"/>
<line x1="24.4" y1="230.5" x2="24.4" y2="233.5" stroke="#000" stroke-width="1.4"/>
<text x="24.4" y="244.0" font-size="10.4" text-anchor="middle" font-weight="bold" fill="#000" textLength="16.7" lengthAdjust="spacingAndGlyphs" stroke="#000" stroke-width="0.2">30E</text>
<line x1="55.3" y1="230.5" x2="55.3" y2="233.5" stroke="#000" stroke-width="1.4"/>
<text x="55.3" y="244.0" font-size="10.4" text-anchor="middle" font-weight="bold" fill="#000" textLength="16.7" lengthAdjust="spacingAndGlyphs" stroke="#000" stroke-width="0.2">60E</text>
<line x1="86.3" y1="230.5" x2="86.3" y2="233.5" stroke="#000" stroke-width="1.4"/>
<text x="86.3" y="244.0" font-size="10.4" text-anchor="middle" font-weight="bold" fill="#000" textLength="16.7" lengthAdjust="spacingAndGlyphs" stroke="#000" stroke-width="0.2">90E</text>
<line x1="117.2" y1="230.5" x2="117.2" y2="233.5" stroke="#000" stroke-width="1.4"/>
<text x="117.2" y="244.0" font-size="10.4" text-anchor="middle" font-weight="bold" fill="#000" textLength="22.4" lengthAdjust="spacingAndGlyphs" stroke="#000" stroke-width="0.2">120E</text>
<line x1="148.1" y1="230.5" x2="148.1" y2="233.5" stroke="#000" stroke-width="1.4"/>
<text x="148.1" y="244.0" font-size="10.4" text-anchor="middle" font-weight="bold" fill="#000" textLength="22.4" lengthAdjust="spacingAndGlyphs" stroke="#000" stroke-width="0.2">150E</text>
<line x1="179.1" y1="230.5" x2="179.1" y2="233.5" stroke="#000" stroke-width="1.4"/>
<text x="179.1" y="244.0" font-size="10.4" text-anchor="middle" font-weight="bold" fill="#000" textLength="16.5" lengthAdjust="spacingAndGlyphs" stroke="#000" stroke-width="0.2">180</text>
<line x1="210.0" y1="230.5" x2="210.0" y2="233.5" stroke="#000" stroke-width="1.4"/>
<text x="210.0" y="244.0" font-size="10.4" text-anchor="middle" font-weight="bold" fill="#000" textLength="24" lengthAdjust="spacingAndGlyphs" stroke="#000" stroke-width="0.2">150W</text>
<line x1="240.9" y1="230.5" x2="240.9" y2="233.5" stroke="#000" stroke-width="1.4"/>
<text x="240.9" y="244.0" font-size="10.4" text-anchor="middle" font-weight="bold" fill="#000" textLength="24" lengthAdjust="spacingAndGlyphs" stroke="#000" stroke-width="0.2">120W</text>
<line x1="271.9" y1="230.5" x2="271.9" y2="233.5" stroke="#000" stroke-width="1.4"/>
<text x="271.9" y="244.0" font-size="10.4" text-anchor="middle" font-weight="bold" fill="#000" textLength="18.5" lengthAdjust="spacingAndGlyphs" stroke="#000" stroke-width="0.2">90W</text>
<line x1="302.8" y1="230.5" x2="302.8" y2="233.5" stroke="#000" stroke-width="1.4"/>
<text x="302.8" y="244.0" font-size="10.4" text-anchor="middle" font-weight="bold" fill="#000" textLength="18.5" lengthAdjust="spacingAndGlyphs" stroke="#000" stroke-width="0.2">60W</text>
<line x1="333.7" y1="230.5" x2="333.7" y2="233.5" stroke="#000" stroke-width="1.4"/>
<text x="333.7" y="244.0" font-size="10.4" text-anchor="middle" font-weight="bold" fill="#000" textLength="18.5" lengthAdjust="spacingAndGlyphs" stroke="#000" stroke-width="0.2">30W</text>
<line x1="364.7" y1="230.5" x2="364.7" y2="233.5" stroke="#000" stroke-width="1.4"/>
<text x="364.7" y="244.0" font-size="10.4" text-anchor="middle" font-weight="bold" fill="#000" textLength="6" lengthAdjust="spacingAndGlyphs" stroke="#000" stroke-width="0.2">0</text>
<line x1="395.6" y1="230.5" x2="395.6" y2="233.5" stroke="#000" stroke-width="1.4"/>
<text x="395.6" y="244.0" font-size="10.4" text-anchor="middle" font-weight="bold" fill="#000" textLength="16.7" lengthAdjust="spacingAndGlyphs" stroke="#000" stroke-width="0.2">30E</text>
<line x1="21.4" y1="56.4" x2="24.4" y2="56.4" stroke="#000" stroke-width="1.4"/>
<text x="18.8" y="61.2" font-size="10.0" text-anchor="end" font-weight="bold" fill="#000" textLength="9.5" lengthAdjust="spacingAndGlyphs" stroke="#000" stroke-width="0.2">50</text>
<line x1="21.4" y1="78.9" x2="24.4" y2="78.9" stroke="#000" stroke-width="1.4"/>
<text x="18.8" y="83.7" font-size="10.0" text-anchor="end" font-weight="bold" fill="#000" textLength="13.6" lengthAdjust="spacingAndGlyphs" stroke="#000" stroke-width="0.2">100</text>
<line x1="21.4" y1="101.5" x2="24.4" y2="101.5" stroke="#000" stroke-width="1.4"/>
<text x="18.8" y="106.3" font-size="10.0" text-anchor="end" font-weight="bold" fill="#000" textLength="13.6" lengthAdjust="spacingAndGlyphs" stroke="#000" stroke-width="0.2">150</text>
<line x1="21.4" y1="124.0" x2="24.4" y2="124.0" stroke="#000" stroke-width="1.4"/>
<text x="18.8" y="128.8" font-size="10.0" text-anchor="end" font-weight="bold" fill="#000" textLength="13.6" lengthAdjust="spacingAndGlyphs" stroke="#000" stroke-width="0.2">200</text>
<line x1="21.4" y1="146.5" x2="24.4" y2="146.5" stroke="#000" stroke-width="1.4"/>
<text x="18.8" y="151.3" font-size="10.0" text-anchor="end" font-weight="bold" fill="#000" textLength="13.6" lengthAdjust="spacingAndGlyphs" stroke="#000" stroke-width="0.2">250</text>
<line x1="21.4" y1="169.1" x2="24.4" y2="169.1" stroke="#000" stroke-width="1.4"/>
<text x="18.8" y="173.9" font-size="10.0" text-anchor="end" font-weight="bold" fill="#000" textLength="13.6" lengthAdjust="spacingAndGlyphs" stroke="#000" stroke-width="0.2">300</text>
<line x1="21.4" y1="191.6" x2="24.4" y2="191.6" stroke="#000" stroke-width="1.4"/>
<text x="18.8" y="196.4" font-size="10.0" text-anchor="end" font-weight="bold" fill="#000" textLength="13.6" lengthAdjust="spacingAndGlyphs" stroke="#000" stroke-width="0.2">350</text>
<line x1="21.4" y1="214.1" x2="24.4" y2="214.1" stroke="#000" stroke-width="1.4"/>
<text x="18.8" y="218.9" font-size="10.0" text-anchor="end" font-weight="bold" fill="#000" textLength="13.6" lengthAdjust="spacingAndGlyphs" stroke="#000" stroke-width="0.2">400</text>
<rect x="449.4" y="36.4" width="376.7" height="191.2" fill="none" stroke="#000" stroke-width="1.6"/>
<line x1="449.4" y1="227.6" x2="449.4" y2="230.6" stroke="#000" stroke-width="1.4"/>
<text x="449.4" y="241.1" font-size="10.4" text-anchor="middle" font-weight="bold" fill="#000" textLength="16.7" lengthAdjust="spacingAndGlyphs" stroke="#000" stroke-width="0.2">30E</text>
<line x1="480.8" y1="227.6" x2="480.8" y2="230.6" stroke="#000" stroke-width="1.4"/>
<text x="480.8" y="241.1" font-size="10.4" text-anchor="middle" font-weight="bold" fill="#000" textLength="16.7" lengthAdjust="spacingAndGlyphs" stroke="#000" stroke-width="0.2">60E</text>
<line x1="512.2" y1="227.6" x2="512.2" y2="230.6" stroke="#000" stroke-width="1.4"/>
<text x="512.2" y="241.1" font-size="10.4" text-anchor="middle" font-weight="bold" fill="#000" textLength="16.7" lengthAdjust="spacingAndGlyphs" stroke="#000" stroke-width="0.2">90E</text>
<line x1="543.6" y1="227.6" x2="543.6" y2="230.6" stroke="#000" stroke-width="1.4"/>
<text x="543.6" y="241.1" font-size="10.4" text-anchor="middle" font-weight="bold" fill="#000" textLength="22.4" lengthAdjust="spacingAndGlyphs" stroke="#000" stroke-width="0.2">120E</text>
<line x1="575.0" y1="227.6" x2="575.0" y2="230.6" stroke="#000" stroke-width="1.4"/>
<text x="575.0" y="241.1" font-size="10.4" text-anchor="middle" font-weight="bold" fill="#000" textLength="22.4" lengthAdjust="spacingAndGlyphs" stroke="#000" stroke-width="0.2">150E</text>
<line x1="606.4" y1="227.6" x2="606.4" y2="230.6" stroke="#000" stroke-width="1.4"/>
<text x="606.4" y="241.1" font-size="10.4" text-anchor="middle" font-weight="bold" fill="#000" textLength="16.5" lengthAdjust="spacingAndGlyphs" stroke="#000" stroke-width="0.2">180</text>
<line x1="637.8" y1="227.6" x2="637.8" y2="230.6" stroke="#000" stroke-width="1.4"/>
<text x="637.8" y="241.1" font-size="10.4" text-anchor="middle" font-weight="bold" fill="#000" textLength="24" lengthAdjust="spacingAndGlyphs" stroke="#000" stroke-width="0.2">150W</text>
<line x1="669.1" y1="227.6" x2="669.1" y2="230.6" stroke="#000" stroke-width="1.4"/>
<text x="669.1" y="241.1" font-size="10.4" text-anchor="middle" font-weight="bold" fill="#000" textLength="24" lengthAdjust="spacingAndGlyphs" stroke="#000" stroke-width="0.2">120W</text>
<line x1="700.5" y1="227.6" x2="700.5" y2="230.6" stroke="#000" stroke-width="1.4"/>
<text x="700.5" y="241.1" font-size="10.4" text-anchor="middle" font-weight="bold" fill="#000" textLength="18.5" lengthAdjust="spacingAndGlyphs" stroke="#000" stroke-width="0.2">90W</text>
<line x1="731.9" y1="227.6" x2="731.9" y2="230.6" stroke="#000" stroke-width="1.4"/>
<text x="731.9" y="241.1" font-size="10.4" text-anchor="middle" font-weight="bold" fill="#000" textLength="18.5" lengthAdjust="spacingAndGlyphs" stroke="#000" stroke-width="0.2">60W</text>
<line x1="763.3" y1="227.6" x2="763.3" y2="230.6" stroke="#000" stroke-width="1.4"/>
<text x="763.3" y="241.1" font-size="10.4" text-anchor="middle" font-weight="bold" fill="#000" textLength="18.5" lengthAdjust="spacingAndGlyphs" stroke="#000" stroke-width="0.2">30W</text>
<line x1="794.7" y1="227.6" x2="794.7" y2="230.6" stroke="#000" stroke-width="1.4"/>
<text x="794.7" y="241.1" font-size="10.4" text-anchor="middle" font-weight="bold" fill="#000" textLength="6" lengthAdjust="spacingAndGlyphs" stroke="#000" stroke-width="0.2">0</text>
<line x1="826.1" y1="227.6" x2="826.1" y2="230.6" stroke="#000" stroke-width="1.4"/>
<text x="826.1" y="241.1" font-size="10.4" text-anchor="middle" font-weight="bold" fill="#000" textLength="16.7" lengthAdjust="spacingAndGlyphs" stroke="#000" stroke-width="0.2">30E</text>
<line x1="446.4" y1="56.1" x2="449.4" y2="56.1" stroke="#000" stroke-width="1.4"/>
<text x="443.8" y="60.9" font-size="10.0" text-anchor="end" font-weight="bold" fill="#000" textLength="9.5" lengthAdjust="spacingAndGlyphs" stroke="#000" stroke-width="0.2">50</text>
<line x1="446.4" y1="78.5" x2="449.4" y2="78.5" stroke="#000" stroke-width="1.4"/>
<text x="443.8" y="83.3" font-size="10.0" text-anchor="end" font-weight="bold" fill="#000" textLength="13.6" lengthAdjust="spacingAndGlyphs" stroke="#000" stroke-width="0.2">100</text>
<line x1="446.4" y1="100.9" x2="449.4" y2="100.9" stroke="#000" stroke-width="1.4"/>
<text x="443.8" y="105.7" font-size="10.0" text-anchor="end" font-weight="bold" fill="#000" textLength="13.6" lengthAdjust="spacingAndGlyphs" stroke="#000" stroke-width="0.2">150</text>
<line x1="446.4" y1="123.3" x2="449.4" y2="123.3" stroke="#000" stroke-width="1.4"/>
<text x="443.8" y="128.1" font-size="10.0" text-anchor="end" font-weight="bold" fill="#000" textLength="13.6" lengthAdjust="spacingAndGlyphs" stroke="#000" stroke-width="0.2">200</text>
<line x1="446.4" y1="145.7" x2="449.4" y2="145.7" stroke="#000" stroke-width="1.4"/>
<text x="443.8" y="150.5" font-size="10.0" text-anchor="end" font-weight="bold" fill="#000" textLength="13.6" lengthAdjust="spacingAndGlyphs" stroke="#000" stroke-width="0.2">250</text>
<line x1="446.4" y1="168.1" x2="449.4" y2="168.1" stroke="#000" stroke-width="1.4"/>
<text x="443.8" y="172.9" font-size="10.0" text-anchor="end" font-weight="bold" fill="#000" textLength="13.6" lengthAdjust="spacingAndGlyphs" stroke="#000" stroke-width="0.2">300</text>
<line x1="446.4" y1="190.5" x2="449.4" y2="190.5" stroke="#000" stroke-width="1.4"/>
<text x="443.8" y="195.3" font-size="10.0" text-anchor="end" font-weight="bold" fill="#000" textLength="13.6" lengthAdjust="spacingAndGlyphs" stroke="#000" stroke-width="0.2">350</text>
<line x1="446.4" y1="212.9" x2="449.4" y2="212.9" stroke="#000" stroke-width="1.4"/>
<text x="443.8" y="217.7" font-size="10.0" text-anchor="end" font-weight="bold" fill="#000" textLength="13.6" lengthAdjust="spacingAndGlyphs" stroke="#000" stroke-width="0.2">400</text>
<rect x="24.3" y="286.9" width="371.1" height="193.1" fill="none" stroke="#000" stroke-width="1.6"/>
<line x1="24.3" y1="480.0" x2="24.3" y2="483.0" stroke="#000" stroke-width="1.4"/>
<text x="24.3" y="493.5" font-size="10.4" text-anchor="middle" font-weight="bold" fill="#000" textLength="16.7" lengthAdjust="spacingAndGlyphs" stroke="#000" stroke-width="0.2">30E</text>
<line x1="55.2" y1="480.0" x2="55.2" y2="483.0" stroke="#000" stroke-width="1.4"/>
<text x="55.2" y="493.5" font-size="10.4" text-anchor="middle" font-weight="bold" fill="#000" textLength="16.7" lengthAdjust="spacingAndGlyphs" stroke="#000" stroke-width="0.2">60E</text>
<line x1="86.1" y1="480.0" x2="86.1" y2="483.0" stroke="#000" stroke-width="1.4"/>
<text x="86.1" y="493.5" font-size="10.4" text-anchor="middle" font-weight="bold" fill="#000" textLength="16.7" lengthAdjust="spacingAndGlyphs" stroke="#000" stroke-width="0.2">90E</text>
<line x1="117.1" y1="480.0" x2="117.1" y2="483.0" stroke="#000" stroke-width="1.4"/>
<text x="117.1" y="493.5" font-size="10.4" text-anchor="middle" font-weight="bold" fill="#000" textLength="22.4" lengthAdjust="spacingAndGlyphs" stroke="#000" stroke-width="0.2">120E</text>
<line x1="148.0" y1="480.0" x2="148.0" y2="483.0" stroke="#000" stroke-width="1.4"/>
<text x="148.0" y="493.5" font-size="10.4" text-anchor="middle" font-weight="bold" fill="#000" textLength="22.4" lengthAdjust="spacingAndGlyphs" stroke="#000" stroke-width="0.2">150E</text>
<line x1="178.9" y1="480.0" x2="178.9" y2="483.0" stroke="#000" stroke-width="1.4"/>
<text x="178.9" y="493.5" font-size="10.4" text-anchor="middle" font-weight="bold" fill="#000" textLength="16.5" lengthAdjust="spacingAndGlyphs" stroke="#000" stroke-width="0.2">180</text>
<line x1="209.8" y1="480.0" x2="209.8" y2="483.0" stroke="#000" stroke-width="1.4"/>
<text x="209.8" y="493.5" font-size="10.4" text-anchor="middle" font-weight="bold" fill="#000" textLength="24" lengthAdjust="spacingAndGlyphs" stroke="#000" stroke-width="0.2">150W</text>
<line x1="240.8" y1="480.0" x2="240.8" y2="483.0" stroke="#000" stroke-width="1.4"/>
<text x="240.8" y="493.5" font-size="10.4" text-anchor="middle" font-weight="bold" fill="#000" textLength="24" lengthAdjust="spacingAndGlyphs" stroke="#000" stroke-width="0.2">120W</text>
<line x1="271.7" y1="480.0" x2="271.7" y2="483.0" stroke="#000" stroke-width="1.4"/>
<text x="271.7" y="493.5" font-size="10.4" text-anchor="middle" font-weight="bold" fill="#000" textLength="18.5" lengthAdjust="spacingAndGlyphs" stroke="#000" stroke-width="0.2">90W</text>
<line x1="302.6" y1="480.0" x2="302.6" y2="483.0" stroke="#000" stroke-width="1.4"/>
<text x="302.6" y="493.5" font-size="10.4" text-anchor="middle" font-weight="bold" fill="#000" textLength="18.5" lengthAdjust="spacingAndGlyphs" stroke="#000" stroke-width="0.2">60W</text>
<line x1="333.6" y1="480.0" x2="333.6" y2="483.0" stroke="#000" stroke-width="1.4"/>
<text x="333.6" y="493.5" font-size="10.4" text-anchor="middle" font-weight="bold" fill="#000" textLength="18.5" lengthAdjust="spacingAndGlyphs" stroke="#000" stroke-width="0.2">30W</text>
<line x1="364.5" y1="480.0" x2="364.5" y2="483.0" stroke="#000" stroke-width="1.4"/>
<text x="364.5" y="493.5" font-size="10.4" text-anchor="middle" font-weight="bold" fill="#000" textLength="6" lengthAdjust="spacingAndGlyphs" stroke="#000" stroke-width="0.2">0</text>
<line x1="395.4" y1="480.0" x2="395.4" y2="483.0" stroke="#000" stroke-width="1.4"/>
<text x="395.4" y="493.5" font-size="10.4" text-anchor="middle" font-weight="bold" fill="#000" textLength="16.7" lengthAdjust="spacingAndGlyphs" stroke="#000" stroke-width="0.2">30E</text>
<line x1="21.3" y1="307.2" x2="24.3" y2="307.2" stroke="#000" stroke-width="1.4"/>
<text x="18.7" y="312.0" font-size="10.0" text-anchor="end" font-weight="bold" fill="#000" textLength="9.5" lengthAdjust="spacingAndGlyphs" stroke="#000" stroke-width="0.2">50</text>
<line x1="21.3" y1="329.8" x2="24.3" y2="329.8" stroke="#000" stroke-width="1.4"/>
<text x="18.7" y="334.6" font-size="10.0" text-anchor="end" font-weight="bold" fill="#000" textLength="13.6" lengthAdjust="spacingAndGlyphs" stroke="#000" stroke-width="0.2">100</text>
<line x1="21.3" y1="352.3" x2="24.3" y2="352.3" stroke="#000" stroke-width="1.4"/>
<text x="18.7" y="357.1" font-size="10.0" text-anchor="end" font-weight="bold" fill="#000" textLength="13.6" lengthAdjust="spacingAndGlyphs" stroke="#000" stroke-width="0.2">150</text>
<line x1="21.3" y1="374.9" x2="24.3" y2="374.9" stroke="#000" stroke-width="1.4"/>
<text x="18.7" y="379.7" font-size="10.0" text-anchor="end" font-weight="bold" fill="#000" textLength="13.6" lengthAdjust="spacingAndGlyphs" stroke="#000" stroke-width="0.2">200</text>
<line x1="21.3" y1="397.4" x2="24.3" y2="397.4" stroke="#000" stroke-width="1.4"/>
<text x="18.7" y="402.2" font-size="10.0" text-anchor="end" font-weight="bold" fill="#000" textLength="13.6" lengthAdjust="spacingAndGlyphs" stroke="#000" stroke-width="0.2">250</text>
<line x1="21.3" y1="419.9" x2="24.3" y2="419.9" stroke="#000" stroke-width="1.4"/>
<text x="18.7" y="424.8" font-size="10.0" text-anchor="end" font-weight="bold" fill="#000" textLength="13.6" lengthAdjust="spacingAndGlyphs" stroke="#000" stroke-width="0.2">300</text>
<line x1="21.3" y1="442.5" x2="24.3" y2="442.5" stroke="#000" stroke-width="1.4"/>
<text x="18.7" y="447.3" font-size="10.0" text-anchor="end" font-weight="bold" fill="#000" textLength="13.6" lengthAdjust="spacingAndGlyphs" stroke="#000" stroke-width="0.2">350</text>
<line x1="21.3" y1="465.0" x2="24.3" y2="465.0" stroke="#000" stroke-width="1.4"/>
<text x="18.7" y="469.8" font-size="10.0" text-anchor="end" font-weight="bold" fill="#000" textLength="13.6" lengthAdjust="spacingAndGlyphs" stroke="#000" stroke-width="0.2">400</text>
<rect x="449.3" y="282.2" width="376.7" height="190.8" fill="none" stroke="#000" stroke-width="1.6"/>
<line x1="449.3" y1="473.0" x2="449.3" y2="476.0" stroke="#000" stroke-width="1.4"/>
<text x="449.3" y="486.5" font-size="10.4" text-anchor="middle" font-weight="bold" fill="#000" textLength="16.7" lengthAdjust="spacingAndGlyphs" stroke="#000" stroke-width="0.2">30E</text>
<line x1="480.7" y1="473.0" x2="480.7" y2="476.0" stroke="#000" stroke-width="1.4"/>
<text x="480.7" y="486.5" font-size="10.4" text-anchor="middle" font-weight="bold" fill="#000" textLength="16.7" lengthAdjust="spacingAndGlyphs" stroke="#000" stroke-width="0.2">60E</text>
<line x1="512.1" y1="473.0" x2="512.1" y2="476.0" stroke="#000" stroke-width="1.4"/>
<text x="512.1" y="486.5" font-size="10.4" text-anchor="middle" font-weight="bold" fill="#000" textLength="16.7" lengthAdjust="spacingAndGlyphs" stroke="#000" stroke-width="0.2">90E</text>
<line x1="543.5" y1="473.0" x2="543.5" y2="476.0" stroke="#000" stroke-width="1.4"/>
<text x="543.5" y="486.5" font-size="10.4" text-anchor="middle" font-weight="bold" fill="#000" textLength="22.4" lengthAdjust="spacingAndGlyphs" stroke="#000" stroke-width="0.2">120E</text>
<line x1="574.9" y1="473.0" x2="574.9" y2="476.0" stroke="#000" stroke-width="1.4"/>
<text x="574.9" y="486.5" font-size="10.4" text-anchor="middle" font-weight="bold" fill="#000" textLength="22.4" lengthAdjust="spacingAndGlyphs" stroke="#000" stroke-width="0.2">150E</text>
<line x1="606.3" y1="473.0" x2="606.3" y2="476.0" stroke="#000" stroke-width="1.4"/>
<text x="606.3" y="486.5" font-size="10.4" text-anchor="middle" font-weight="bold" fill="#000" textLength="16.5" lengthAdjust="spacingAndGlyphs" stroke="#000" stroke-width="0.2">180</text>
<line x1="637.6" y1="473.0" x2="637.6" y2="476.0" stroke="#000" stroke-width="1.4"/>
<text x="637.6" y="486.5" font-size="10.4" text-anchor="middle" font-weight="bold" fill="#000" textLength="24" lengthAdjust="spacingAndGlyphs" stroke="#000" stroke-width="0.2">150W</text>
<line x1="669.0" y1="473.0" x2="669.0" y2="476.0" stroke="#000" stroke-width="1.4"/>
<text x="669.0" y="486.5" font-size="10.4" text-anchor="middle" font-weight="bold" fill="#000" textLength="24" lengthAdjust="spacingAndGlyphs" stroke="#000" stroke-width="0.2">120W</text>
<line x1="700.4" y1="473.0" x2="700.4" y2="476.0" stroke="#000" stroke-width="1.4"/>
<text x="700.4" y="486.5" font-size="10.4" text-anchor="middle" font-weight="bold" fill="#000" textLength="18.5" lengthAdjust="spacingAndGlyphs" stroke="#000" stroke-width="0.2">90W</text>
<line x1="731.8" y1="473.0" x2="731.8" y2="476.0" stroke="#000" stroke-width="1.4"/>
<text x="731.8" y="486.5" font-size="10.4" text-anchor="middle" font-weight="bold" fill="#000" textLength="18.5" lengthAdjust="spacingAndGlyphs" stroke="#000" stroke-width="0.2">60W</text>
<line x1="763.2" y1="473.0" x2="763.2" y2="476.0" stroke="#000" stroke-width="1.4"/>
<text x="763.2" y="486.5" font-size="10.4" text-anchor="middle" font-weight="bold" fill="#000" textLength="18.5" lengthAdjust="spacingAndGlyphs" stroke="#000" stroke-width="0.2">30W</text>
<line x1="794.6" y1="473.0" x2="794.6" y2="476.0" stroke="#000" stroke-width="1.4"/>
<text x="794.6" y="486.5" font-size="10.4" text-anchor="middle" font-weight="bold" fill="#000" textLength="6" lengthAdjust="spacingAndGlyphs" stroke="#000" stroke-width="0.2">0</text>
<line x1="826.0" y1="473.0" x2="826.0" y2="476.0" stroke="#000" stroke-width="1.4"/>
<text x="826.0" y="486.5" font-size="10.4" text-anchor="middle" font-weight="bold" fill="#000" textLength="16.7" lengthAdjust="spacingAndGlyphs" stroke="#000" stroke-width="0.2">30E</text>
<line x1="446.3" y1="302.5" x2="449.3" y2="302.5" stroke="#000" stroke-width="1.4"/>
<text x="443.7" y="307.3" font-size="10.0" text-anchor="end" font-weight="bold" fill="#000" textLength="9.5" lengthAdjust="spacingAndGlyphs" stroke="#000" stroke-width="0.2">50</text>
<line x1="446.3" y1="324.7" x2="449.3" y2="324.7" stroke="#000" stroke-width="1.4"/>
<text x="443.7" y="329.5" font-size="10.0" text-anchor="end" font-weight="bold" fill="#000" textLength="13.6" lengthAdjust="spacingAndGlyphs" stroke="#000" stroke-width="0.2">100</text>
<line x1="446.3" y1="346.9" x2="449.3" y2="346.9" stroke="#000" stroke-width="1.4"/>
<text x="443.7" y="351.7" font-size="10.0" text-anchor="end" font-weight="bold" fill="#000" textLength="13.6" lengthAdjust="spacingAndGlyphs" stroke="#000" stroke-width="0.2">150</text>
<line x1="446.3" y1="369.1" x2="449.3" y2="369.1" stroke="#000" stroke-width="1.4"/>
<text x="443.7" y="373.9" font-size="10.0" text-anchor="end" font-weight="bold" fill="#000" textLength="13.6" lengthAdjust="spacingAndGlyphs" stroke="#000" stroke-width="0.2">200</text>
<line x1="446.3" y1="391.3" x2="449.3" y2="391.3" stroke="#000" stroke-width="1.4"/>
<text x="443.7" y="396.1" font-size="10.0" text-anchor="end" font-weight="bold" fill="#000" textLength="13.6" lengthAdjust="spacingAndGlyphs" stroke="#000" stroke-width="0.2">250</text>
<line x1="446.3" y1="413.5" x2="449.3" y2="413.5" stroke="#000" stroke-width="1.4"/>
<text x="443.7" y="418.3" font-size="10.0" text-anchor="end" font-weight="bold" fill="#000" textLength="13.6" lengthAdjust="spacingAndGlyphs" stroke="#000" stroke-width="0.2">300</text>
<line x1="446.3" y1="435.7" x2="449.3" y2="435.7" stroke="#000" stroke-width="1.4"/>
<text x="443.7" y="440.5" font-size="10.0" text-anchor="end" font-weight="bold" fill="#000" textLength="13.6" lengthAdjust="spacingAndGlyphs" stroke="#000" stroke-width="0.2">350</text>
<line x1="446.3" y1="457.9" x2="449.3" y2="457.9" stroke="#000" stroke-width="1.4"/>
<text x="443.7" y="462.7" font-size="10.0" text-anchor="end" font-weight="bold" fill="#000" textLength="13.6" lengthAdjust="spacingAndGlyphs" stroke="#000" stroke-width="0.2">400</text>
<rect x="41.0" y="248.4" width="48.4" height="10.0" fill="#FFF5A3" stroke="none" stroke-width="0"/>
<rect x="89.4" y="248.4" width="48.4" height="10.0" fill="#FFE479" stroke="none" stroke-width="0"/>
<rect x="137.7" y="248.4" width="48.4" height="10.0" fill="#FDBD3A" stroke="none" stroke-width="0"/>
<rect x="186.1" y="248.4" width="48.4" height="10.0" fill="#FBA314" stroke="none" stroke-width="0"/>
<rect x="234.4" y="248.4" width="48.4" height="10.0" fill="#F86A12" stroke="none" stroke-width="0"/>
<rect x="282.8" y="248.4" width="48.4" height="10.0" fill="#E5190B" stroke="none" stroke-width="0"/>
<rect x="331.1" y="248.4" width="48.4" height="10.0" fill="#B00408" stroke="none" stroke-width="0"/>
<line x1="89.4" y1="248.4" x2="89.4" y2="258.4" stroke="#222" stroke-width="1"/>
<line x1="137.7" y1="248.4" x2="137.7" y2="258.4" stroke="#222" stroke-width="1"/>
<line x1="186.1" y1="248.4" x2="186.1" y2="258.4" stroke="#222" stroke-width="1"/>
<line x1="234.4" y1="248.4" x2="234.4" y2="258.4" stroke="#222" stroke-width="1"/>
<line x1="282.8" y1="248.4" x2="282.8" y2="258.4" stroke="#222" stroke-width="1"/>
<line x1="331.1" y1="248.4" x2="331.1" y2="258.4" stroke="#222" stroke-width="1"/>
<rect x="41.0" y="248.4" width="338.5" height="10.0" fill="none" stroke="#222" stroke-width="1.2"/>
<text x="89.4" y="268.3" font-size="11.2" text-anchor="middle" font-weight="bold" fill="#000" stroke="#000" stroke-width="0.3">5</text>
<text x="137.7" y="268.3" font-size="11.2" text-anchor="middle" font-weight="bold" fill="#000" stroke="#000" stroke-width="0.3">10</text>
<text x="186.1" y="268.3" font-size="11.2" text-anchor="middle" font-weight="bold" fill="#000" stroke="#000" stroke-width="0.3">15</text>
<text x="234.4" y="268.3" font-size="11.2" text-anchor="middle" font-weight="bold" fill="#000" stroke="#000" stroke-width="0.3">20</text>
<text x="282.8" y="268.3" font-size="11.2" text-anchor="middle" font-weight="bold" fill="#000" stroke="#000" stroke-width="0.3">25</text>
<text x="331.1" y="268.3" font-size="11.2" text-anchor="middle" font-weight="bold" fill="#000" stroke="#000" stroke-width="0.3">30</text>
<rect x="466.4" y="245.1" width="48.9" height="10.3" fill="#FFF5A3" stroke="none" stroke-width="0"/>
<rect x="515.3" y="245.1" width="48.9" height="10.3" fill="#FFE479" stroke="none" stroke-width="0"/>
<rect x="564.2" y="245.1" width="48.9" height="10.3" fill="#FDBD3A" stroke="none" stroke-width="0"/>
<rect x="613.1" y="245.1" width="48.9" height="10.3" fill="#FBA314" stroke="none" stroke-width="0"/>
<rect x="662.0" y="245.1" width="48.9" height="10.3" fill="#F86A12" stroke="none" stroke-width="0"/>
<rect x="710.9" y="245.1" width="48.9" height="10.3" fill="#E5190B" stroke="none" stroke-width="0"/>
<rect x="759.8" y="245.1" width="48.9" height="10.3" fill="#B00408" stroke="none" stroke-width="0"/>
<line x1="515.3" y1="245.1" x2="515.3" y2="255.4" stroke="#222" stroke-width="1"/>
<line x1="564.2" y1="245.1" x2="564.2" y2="255.4" stroke="#222" stroke-width="1"/>
<line x1="613.1" y1="245.1" x2="613.1" y2="255.4" stroke="#222" stroke-width="1"/>
<line x1="662.0" y1="245.1" x2="662.0" y2="255.4" stroke="#222" stroke-width="1"/>
<line x1="710.9" y1="245.1" x2="710.9" y2="255.4" stroke="#222" stroke-width="1"/>
<line x1="759.8" y1="245.1" x2="759.8" y2="255.4" stroke="#222" stroke-width="1"/>
<rect x="466.4" y="245.1" width="342.3" height="10.3" fill="none" stroke="#222" stroke-width="1.2"/>
<text x="515.3" y="265.4" font-size="11.2" text-anchor="middle" font-weight="bold" fill="#000" stroke="#000" stroke-width="0.3">5</text>
<text x="564.2" y="265.4" font-size="11.2" text-anchor="middle" font-weight="bold" fill="#000" stroke="#000" stroke-width="0.3">10</text>
<text x="613.1" y="265.4" font-size="11.2" text-anchor="middle" font-weight="bold" fill="#000" stroke="#000" stroke-width="0.3">15</text>
<text x="662.0" y="265.4" font-size="11.2" text-anchor="middle" font-weight="bold" fill="#000" stroke="#000" stroke-width="0.3">20</text>
<text x="710.9" y="265.4" font-size="11.2" text-anchor="middle" font-weight="bold" fill="#000" stroke="#000" stroke-width="0.3">25</text>
<text x="759.8" y="265.4" font-size="11.2" text-anchor="middle" font-weight="bold" fill="#000" stroke="#000" stroke-width="0.3">30</text>
<rect x="41.0" y="498.5" width="28.2" height="10.3" fill="#1F66E0" stroke="none" stroke-width="0"/>
<rect x="69.2" y="498.5" width="28.2" height="10.3" fill="#3B86EA" stroke="none" stroke-width="0"/>
<rect x="97.3" y="498.5" width="28.2" height="10.3" fill="#4E96EA" stroke="none" stroke-width="0"/>
<rect x="125.5" y="498.5" width="28.2" height="10.3" fill="#78B2F4" stroke="none" stroke-width="0"/>
<rect x="153.7" y="498.5" width="28.2" height="10.3" fill="#9ECCF7" stroke="none" stroke-width="0"/>
<rect x="181.8" y="498.5" width="28.2" height="10.3" fill="#B1EEF9" stroke="none" stroke-width="0"/>
<rect x="210.0" y="498.5" width="28.2" height="10.3" fill="#FEE67B" stroke="none" stroke-width="0"/>
<rect x="238.2" y="498.5" width="28.2" height="10.3" fill="#FBC042" stroke="none" stroke-width="0"/>
<rect x="266.3" y="498.5" width="28.2" height="10.3" fill="#F9A010" stroke="none" stroke-width="0"/>
<rect x="294.5" y="498.5" width="28.2" height="10.3" fill="#F56A12" stroke="none" stroke-width="0"/>
<rect x="322.7" y="498.5" width="28.2" height="10.3" fill="#F0360E" stroke="none" stroke-width="0"/>
<rect x="350.8" y="498.5" width="28.2" height="10.3" fill="#BF0A0A" stroke="none" stroke-width="0"/>
<line x1="69.2" y1="498.5" x2="69.2" y2="508.8" stroke="#222" stroke-width="1"/>
<line x1="97.3" y1="498.5" x2="97.3" y2="508.8" stroke="#222" stroke-width="1"/>
<line x1="125.5" y1="498.5" x2="125.5" y2="508.8" stroke="#222" stroke-width="1"/>
<line x1="153.7" y1="498.5" x2="153.7" y2="508.8" stroke="#222" stroke-width="1"/>
<line x1="181.8" y1="498.5" x2="181.8" y2="508.8" stroke="#222" stroke-width="1"/>
<line x1="210.0" y1="498.5" x2="210.0" y2="508.8" stroke="#222" stroke-width="1"/>
<line x1="238.2" y1="498.5" x2="238.2" y2="508.8" stroke="#222" stroke-width="1"/>
<line x1="266.3" y1="498.5" x2="266.3" y2="508.8" stroke="#222" stroke-width="1"/>
<line x1="294.5" y1="498.5" x2="294.5" y2="508.8" stroke="#222" stroke-width="1"/>
<line x1="322.7" y1="498.5" x2="322.7" y2="508.8" stroke="#222" stroke-width="1"/>
<line x1="350.8" y1="498.5" x2="350.8" y2="508.8" stroke="#222" stroke-width="1"/>
<rect x="41.0" y="498.5" width="338.0" height="10.3" fill="none" stroke="#222" stroke-width="1.2"/>
<text x="69.2" y="519.0" font-size="11.2" text-anchor="middle" font-weight="bold" fill="#000" stroke="#000" stroke-width="0.3">−4</text>
<text x="97.3" y="519.0" font-size="11.2" text-anchor="middle" font-weight="bold" fill="#000" stroke="#000" stroke-width="0.3">−3</text>
<text x="125.5" y="519.0" font-size="11.2" text-anchor="middle" font-weight="bold" fill="#000" stroke="#000" stroke-width="0.3">−2</text>
<text x="153.7" y="519.0" font-size="11.2" text-anchor="middle" font-weight="bold" fill="#000" stroke="#000" stroke-width="0.3">−1</text>
<text x="181.8" y="519.0" font-size="11.2" text-anchor="middle" font-weight="bold" fill="#000" stroke="#000" stroke-width="0.3">−0.5</text>
<text x="210.0" y="519.0" font-size="11.2" text-anchor="middle" font-weight="bold" fill="#000" stroke="#000" stroke-width="0.3">0</text>
<text x="238.2" y="519.0" font-size="11.2" text-anchor="middle" font-weight="bold" fill="#000" stroke="#000" stroke-width="0.3">0.5</text>
<text x="266.3" y="519.0" font-size="11.2" text-anchor="middle" font-weight="bold" fill="#000" stroke="#000" stroke-width="0.3">1</text>
<text x="294.5" y="519.0" font-size="11.2" text-anchor="middle" font-weight="bold" fill="#000" stroke="#000" stroke-width="0.3">2</text>
<text x="322.7" y="519.0" font-size="11.2" text-anchor="middle" font-weight="bold" fill="#000" stroke="#000" stroke-width="0.3">3</text>
<text x="350.8" y="519.0" font-size="11.2" text-anchor="middle" font-weight="bold" fill="#000" stroke="#000" stroke-width="0.3">4</text>
<rect x="466.4" y="491.0" width="28.5" height="10.2" fill="#1F66E0" stroke="none" stroke-width="0"/>
<rect x="494.9" y="491.0" width="28.5" height="10.2" fill="#3B86EA" stroke="none" stroke-width="0"/>
<rect x="523.4" y="491.0" width="28.5" height="10.2" fill="#4E96EA" stroke="none" stroke-width="0"/>
<rect x="551.9" y="491.0" width="28.5" height="10.2" fill="#78B2F4" stroke="none" stroke-width="0"/>
<rect x="580.4" y="491.0" width="28.5" height="10.2" fill="#9ECCF7" stroke="none" stroke-width="0"/>
<rect x="608.9" y="491.0" width="28.5" height="10.2" fill="#B1EEF9" stroke="none" stroke-width="0"/>
<rect x="637.5" y="491.0" width="28.5" height="10.2" fill="#FEE67B" stroke="none" stroke-width="0"/>
<rect x="666.0" y="491.0" width="28.5" height="10.2" fill="#FBC042" stroke="none" stroke-width="0"/>
<rect x="694.5" y="491.0" width="28.5" height="10.2" fill="#F9A010" stroke="none" stroke-width="0"/>
<rect x="723.0" y="491.0" width="28.5" height="10.2" fill="#F56A12" stroke="none" stroke-width="0"/>
<rect x="751.5" y="491.0" width="28.5" height="10.2" fill="#F0360E" stroke="none" stroke-width="0"/>
<rect x="780.0" y="491.0" width="28.5" height="10.2" fill="#BF0A0A" stroke="none" stroke-width="0"/>
<line x1="494.9" y1="491.0" x2="494.9" y2="501.2" stroke="#222" stroke-width="1"/>
<line x1="523.4" y1="491.0" x2="523.4" y2="501.2" stroke="#222" stroke-width="1"/>
<line x1="551.9" y1="491.0" x2="551.9" y2="501.2" stroke="#222" stroke-width="1"/>
<line x1="580.4" y1="491.0" x2="580.4" y2="501.2" stroke="#222" stroke-width="1"/>
<line x1="608.9" y1="491.0" x2="608.9" y2="501.2" stroke="#222" stroke-width="1"/>
<line x1="637.5" y1="491.0" x2="637.5" y2="501.2" stroke="#222" stroke-width="1"/>
<line x1="666.0" y1="491.0" x2="666.0" y2="501.2" stroke="#222" stroke-width="1"/>
<line x1="694.5" y1="491.0" x2="694.5" y2="501.2" stroke="#222" stroke-width="1"/>
<line x1="723.0" y1="491.0" x2="723.0" y2="501.2" stroke="#222" stroke-width="1"/>
<line x1="751.5" y1="491.0" x2="751.5" y2="501.2" stroke="#222" stroke-width="1"/>
<line x1="780.0" y1="491.0" x2="780.0" y2="501.2" stroke="#222" stroke-width="1"/>
<rect x="466.4" y="491.0" width="342.1" height="10.2" fill="none" stroke="#222" stroke-width="1.2"/>
<text x="494.9" y="511.3" font-size="11.2" text-anchor="middle" font-weight="bold" fill="#000" stroke="#000" stroke-width="0.3">−4</text>
<text x="523.4" y="511.3" font-size="11.2" text-anchor="middle" font-weight="bold" fill="#000" stroke="#000" stroke-width="0.3">−3</text>
<text x="551.9" y="511.3" font-size="11.2" text-anchor="middle" font-weight="bold" fill="#000" stroke="#000" stroke-width="0.3">−2</text>
<text x="580.4" y="511.3" font-size="11.2" text-anchor="middle" font-weight="bold" fill="#000" stroke="#000" stroke-width="0.3">−1</text>
<text x="608.9" y="511.3" font-size="11.2" text-anchor="middle" font-weight="bold" fill="#000" stroke="#000" stroke-width="0.3">−0.5</text>
<text x="637.5" y="511.3" font-size="11.2" text-anchor="middle" font-weight="bold" fill="#000" stroke="#000" stroke-width="0.3">0</text>
<text x="666.0" y="511.3" font-size="11.2" text-anchor="middle" font-weight="bold" fill="#000" stroke="#000" stroke-width="0.3">0.5</text>
<text x="694.5" y="511.3" font-size="11.2" text-anchor="middle" font-weight="bold" fill="#000" stroke="#000" stroke-width="0.3">1</text>
<text x="723.0" y="511.3" font-size="11.2" text-anchor="middle" font-weight="bold" fill="#000" stroke="#000" stroke-width="0.3">2</text>
<text x="751.5" y="511.3" font-size="11.2" text-anchor="middle" font-weight="bold" fill="#000" stroke="#000" stroke-width="0.3">3</text>
<text x="780.0" y="511.3" font-size="11.2" text-anchor="middle" font-weight="bold" fill="#000" stroke="#000" stroke-width="0.3">4</text>
<text x="210.2" y="19.6" font-size="12.6" text-anchor="middle" font-weight="bold" fill="#000" textLength="245" lengthAdjust="spacingAndGlyphs" word-spacing="3.5" stroke="#000" stroke-width="0.35">February 2023: Depth–Longitude Section</text>
<text x="210.2" y="32.1" font-size="12.6" text-anchor="middle" font-weight="bold" fill="#000" textLength="211" lengthAdjust="spacingAndGlyphs" word-spacing="3.5" stroke="#000" stroke-width="0.35">Equatorial Ocean Temperatures (C)</text>
<text x="637.7" y="19.6" font-size="12.6" text-anchor="middle" font-weight="bold" fill="#000" textLength="249" lengthAdjust="spacingAndGlyphs" word-spacing="3.5" stroke="#000" stroke-width="0.35">February 2026: Depth–Longitude Section</text>
<text x="637.7" y="32.2" font-size="12.6" text-anchor="middle" font-weight="bold" fill="#000" textLength="212.7" lengthAdjust="spacingAndGlyphs" word-spacing="3.5" stroke="#000" stroke-width="0.35">Equatorial Ocean Temperatures (C)</text>
<text x="209.2" y="283.9" font-size="12.6" text-anchor="middle" font-weight="bold" fill="#000" textLength="269" lengthAdjust="spacingAndGlyphs" word-spacing="3.5" stroke="#000" stroke-width="0.35">Equatorial Ocean Temperature Anomalies (C)</text>
<text x="637.3" y="280.6" font-size="12.6" text-anchor="middle" font-weight="bold" fill="#000" textLength="273.3" lengthAdjust="spacingAndGlyphs" word-spacing="3.5" stroke="#000" stroke-width="0.35">Equatorial Ocean Temperature Anomalies (C)</text>
</svg>
</body></html>
